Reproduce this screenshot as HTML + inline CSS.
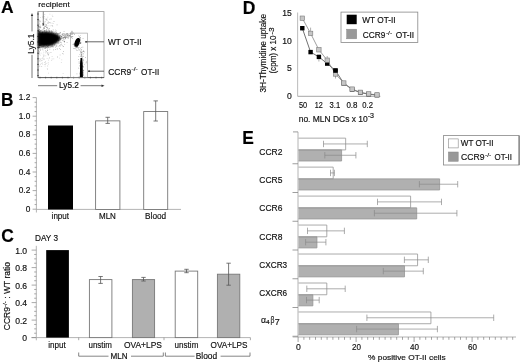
<!DOCTYPE html>
<html><head><meta charset="utf-8"><style>
html,body{margin:0;padding:0;background:#fff;width:520px;height:364px;overflow:hidden}
svg{display:block;filter:grayscale(100%)}
text{font-family:"Liberation Sans", sans-serif;stroke:#000;stroke-width:0.16px;paint-order:stroke}
</style></head><body>
<svg width="520" height="364" viewBox="0 0 520 364">
<defs><filter id="bl" x="-20%" y="-20%" width="140%" height="140%"><feGaussianBlur stdDeviation="0.7"/></filter><filter id="bl2" x="-20%" y="-20%" width="140%" height="140%"><feGaussianBlur stdDeviation="1.4"/></filter><filter id="bl4" x="-10%" y="-10%" width="120%" height="120%"><feGaussianBlur stdDeviation="0.85"/></filter><filter id="bl3" x="-5%" y="-5%" width="110%" height="110%"><feGaussianBlur stdDeviation="0.35"/></filter></defs>
<rect width="520" height="364" fill="#fff"/>
<text x="0.9" y="13.1" font-size="17" font-weight="bold" textLength="12.6" lengthAdjust="spacingAndGlyphs" fill="#000">A</text>
<text x="0.9" y="106" font-size="17.5" font-weight="bold" textLength="12.4" lengthAdjust="spacingAndGlyphs" fill="#000">B</text>
<text x="1.3" y="241.9" font-size="17.5" font-weight="bold" textLength="12.6" lengthAdjust="spacingAndGlyphs" fill="#000">C</text>
<text x="242.8" y="14.1" font-size="17.5" font-weight="bold" textLength="12.6" lengthAdjust="spacingAndGlyphs" fill="#000">D</text>
<text x="242.3" y="144.1" font-size="17.5" font-weight="bold" textLength="11.6" lengthAdjust="spacingAndGlyphs" fill="#000">E</text>
<rect x="38" y="11.6" width="66" height="66.0" fill="none" stroke="#999" stroke-width="0.8"/>
<line x1="38" y1="11.6" x2="38" y2="77.6" stroke="#666" stroke-width="0.8"/>
<line x1="38" y1="77.6" x2="104" y2="77.6" stroke="#555" stroke-width="0.9"/>
<line x1="37.2" y1="14.0" x2="38.8" y2="14.0" stroke="#333" stroke-width="0.8"/>
<line x1="37.2" y1="19.6" x2="38.8" y2="19.6" stroke="#333" stroke-width="0.8"/>
<line x1="37.2" y1="25.2" x2="38.8" y2="25.2" stroke="#333" stroke-width="0.8"/>
<line x1="37.2" y1="30.799999999999997" x2="38.8" y2="30.799999999999997" stroke="#333" stroke-width="0.8"/>
<line x1="37.2" y1="36.4" x2="38.8" y2="36.4" stroke="#333" stroke-width="0.8"/>
<line x1="37.2" y1="42.0" x2="38.8" y2="42.0" stroke="#333" stroke-width="0.8"/>
<line x1="37.2" y1="47.599999999999994" x2="38.8" y2="47.599999999999994" stroke="#333" stroke-width="0.8"/>
<line x1="37.2" y1="53.199999999999996" x2="38.8" y2="53.199999999999996" stroke="#333" stroke-width="0.8"/>
<line x1="37.2" y1="58.8" x2="38.8" y2="58.8" stroke="#333" stroke-width="0.8"/>
<line x1="37.2" y1="64.4" x2="38.8" y2="64.4" stroke="#333" stroke-width="0.8"/>
<line x1="37.2" y1="70.0" x2="38.8" y2="70.0" stroke="#333" stroke-width="0.8"/>
<line x1="37.2" y1="75.6" x2="38.8" y2="75.6" stroke="#333" stroke-width="0.8"/>
<line x1="40.0" y1="76.8" x2="40.0" y2="78.4" stroke="#444" stroke-width="0.7"/>
<line x1="45.6" y1="76.8" x2="45.6" y2="78.4" stroke="#444" stroke-width="0.7"/>
<line x1="51.2" y1="76.8" x2="51.2" y2="78.4" stroke="#444" stroke-width="0.7"/>
<line x1="56.8" y1="76.8" x2="56.8" y2="78.4" stroke="#444" stroke-width="0.7"/>
<line x1="62.4" y1="76.8" x2="62.4" y2="78.4" stroke="#444" stroke-width="0.7"/>
<line x1="68.0" y1="76.8" x2="68.0" y2="78.4" stroke="#444" stroke-width="0.7"/>
<line x1="73.6" y1="76.8" x2="73.6" y2="78.4" stroke="#444" stroke-width="0.7"/>
<line x1="79.19999999999999" y1="76.8" x2="79.19999999999999" y2="78.4" stroke="#444" stroke-width="0.7"/>
<line x1="84.8" y1="76.8" x2="84.8" y2="78.4" stroke="#444" stroke-width="0.7"/>
<line x1="90.4" y1="76.8" x2="90.4" y2="78.4" stroke="#444" stroke-width="0.7"/>
<line x1="96.0" y1="76.8" x2="96.0" y2="78.4" stroke="#444" stroke-width="0.7"/>
<line x1="101.6" y1="76.8" x2="101.6" y2="78.4" stroke="#444" stroke-width="0.7"/>
<g filter="url(#bl3)">
<path d="M42.3 37.4h.7v.7h-.7zM39.5 34.5h.7v.7h-.7zM48.3 33.6h.7v.7h-.7zM47.8 34.8h.7v.7h-.7zM49.0 42.9h.7v.7h-.7zM38.5 40.4h.7v.7h-.7zM38.6 37.5h.7v.7h-.7zM38.9 24.6h.7v.7h-.7zM38.8 42.3h.7v.7h-.7zM46.6 43.3h.7v.7h-.7zM45.0 36.6h.7v.7h-.7zM39.0 38.4h.7v.7h-.7zM46.5 41.5h.7v.7h-.7zM47.3 36.8h.7v.7h-.7zM47.2 39.3h.7v.7h-.7zM39.9 32.0h.7v.7h-.7zM44.9 39.9h.7v.7h-.7zM46.2 37.3h.7v.7h-.7zM40.5 45.2h.7v.7h-.7zM38.4 47.9h.7v.7h-.7zM39.0 43.2h.7v.7h-.7zM53.1 33.2h.7v.7h-.7zM44.1 40.7h.7v.7h-.7zM39.0 37.7h.7v.7h-.7zM38.9 32.3h.7v.7h-.7zM38.6 34.2h.7v.7h-.7zM40.1 50.3h.7v.7h-.7zM40.4 34.0h.7v.7h-.7zM59.9 32.1h.7v.7h-.7zM53.3 40.6h.7v.7h-.7zM47.1 43.0h.7v.7h-.7zM43.6 37.6h.7v.7h-.7zM38.4 34.9h.7v.7h-.7zM48.8 28.6h.7v.7h-.7zM53.2 36.3h.7v.7h-.7zM39.1 39.1h.7v.7h-.7zM38.5 32.8h.7v.7h-.7zM38.8 41.4h.7v.7h-.7zM46.9 32.7h.7v.7h-.7zM48.4 38.8h.7v.7h-.7zM45.3 40.5h.7v.7h-.7zM43.7 35.1h.7v.7h-.7zM38.5 29.2h.7v.7h-.7zM49.0 37.1h.7v.7h-.7zM38.5 35.2h.7v.7h-.7zM42.1 32.0h.7v.7h-.7zM38.6 38.5h.7v.7h-.7zM44.5 34.6h.7v.7h-.7zM53.2 38.8h.7v.7h-.7zM38.5 46.4h.7v.7h-.7zM46.6 26.9h.7v.7h-.7zM46.0 30.4h.7v.7h-.7zM44.9 43.1h.7v.7h-.7zM48.7 44.0h.7v.7h-.7zM56.4 37.6h.7v.7h-.7zM38.9 38.3h.7v.7h-.7zM43.6 39.4h.7v.7h-.7zM38.8 42.5h.7v.7h-.7zM41.8 37.6h.7v.7h-.7zM43.3 42.5h.7v.7h-.7zM46.9 40.1h.7v.7h-.7zM40.2 42.5h.7v.7h-.7zM38.5 40.5h.7v.7h-.7zM50.9 38.5h.7v.7h-.7zM48.8 36.0h.7v.7h-.7zM45.1 39.0h.7v.7h-.7zM46.3 41.8h.7v.7h-.7zM45.0 43.8h.7v.7h-.7zM39.1 37.2h.7v.7h-.7zM43.4 46.6h.7v.7h-.7zM52.0 31.6h.7v.7h-.7zM38.8 34.0h.7v.7h-.7zM39.6 33.6h.7v.7h-.7zM38.5 37.6h.7v.7h-.7zM38.5 41.8h.7v.7h-.7zM43.3 39.8h.7v.7h-.7zM44.9 43.8h.7v.7h-.7zM39.0 36.8h.7v.7h-.7zM38.7 43.7h.7v.7h-.7zM38.5 36.5h.7v.7h-.7zM43.1 45.8h.7v.7h-.7zM52.8 37.0h.7v.7h-.7zM47.3 49.8h.7v.7h-.7zM49.6 34.2h.7v.7h-.7zM53.0 41.6h.7v.7h-.7zM43.6 42.6h.7v.7h-.7zM38.7 39.9h.7v.7h-.7zM40.2 39.0h.7v.7h-.7zM38.6 40.1h.7v.7h-.7zM57.6 33.7h.7v.7h-.7zM46.8 41.2h.7v.7h-.7zM43.9 43.7h.7v.7h-.7zM45.0 35.7h.7v.7h-.7zM41.9 35.5h.7v.7h-.7zM38.6 33.7h.7v.7h-.7zM45.3 40.7h.7v.7h-.7zM44.2 42.1h.7v.7h-.7zM41.2 30.5h.7v.7h-.7zM38.8 40.1h.7v.7h-.7zM55.3 36.7h.7v.7h-.7zM38.4 40.4h.7v.7h-.7zM41.7 39.7h.7v.7h-.7zM38.7 39.3h.7v.7h-.7zM47.2 39.1h.7v.7h-.7zM50.1 38.4h.7v.7h-.7zM38.4 36.2h.7v.7h-.7zM43.0 43.6h.7v.7h-.7zM60.4 35.1h.7v.7h-.7zM39.0 38.1h.7v.7h-.7zM46.2 32.4h.7v.7h-.7zM39.0 35.9h.7v.7h-.7zM43.2 38.6h.7v.7h-.7zM38.6 40.6h.7v.7h-.7zM51.2 39.6h.7v.7h-.7zM46.9 40.8h.7v.7h-.7zM62.3 40.1h.7v.7h-.7zM38.4 34.7h.7v.7h-.7zM47.8 31.9h.7v.7h-.7zM53.5 36.6h.7v.7h-.7zM38.7 37.0h.7v.7h-.7zM50.4 33.3h.7v.7h-.7zM38.7 33.6h.7v.7h-.7zM38.9 42.4h.7v.7h-.7zM52.1 43.9h.7v.7h-.7zM51.9 34.0h.7v.7h-.7zM38.5 37.7h.7v.7h-.7zM44.5 34.5h.7v.7h-.7zM43.5 40.8h.7v.7h-.7zM46.0 44.7h.7v.7h-.7zM54.1 39.9h.7v.7h-.7zM47.1 46.1h.7v.7h-.7zM38.7 40.7h.7v.7h-.7zM51.5 36.1h.7v.7h-.7zM39.1 38.4h.7v.7h-.7zM44.9 41.8h.7v.7h-.7zM38.5 38.7h.7v.7h-.7zM50.6 52.1h.7v.7h-.7zM40.2 36.8h.7v.7h-.7zM53.3 36.5h.7v.7h-.7zM47.1 42.3h.7v.7h-.7zM38.5 39.9h.7v.7h-.7zM38.6 43.2h.7v.7h-.7zM38.5 29.4h.7v.7h-.7zM52.8 36.9h.7v.7h-.7zM38.7 37.7h.7v.7h-.7zM46.9 38.6h.7v.7h-.7zM38.7 39.6h.7v.7h-.7zM39.5 34.0h.7v.7h-.7zM45.4 33.4h.7v.7h-.7zM42.9 37.6h.7v.7h-.7zM38.8 41.0h.7v.7h-.7zM55.7 39.5h.7v.7h-.7zM42.5 38.2h.7v.7h-.7zM44.7 34.4h.7v.7h-.7zM38.8 42.8h.7v.7h-.7zM43.3 37.1h.7v.7h-.7zM55.9 33.2h.7v.7h-.7zM52.3 40.0h.7v.7h-.7zM46.5 29.4h.7v.7h-.7zM38.8 41.1h.7v.7h-.7zM41.8 32.7h.7v.7h-.7zM44.6 37.9h.7v.7h-.7zM38.4 37.8h.7v.7h-.7zM52.3 43.5h.7v.7h-.7zM50.7 40.4h.7v.7h-.7zM38.5 44.7h.7v.7h-.7zM38.9 35.2h.7v.7h-.7zM38.8 47.6h.7v.7h-.7zM38.5 48.3h.7v.7h-.7zM38.6 31.8h.7v.7h-.7zM39.4 35.9h.7v.7h-.7zM40.4 39.3h.7v.7h-.7zM39.3 43.7h.7v.7h-.7zM44.9 46.2h.7v.7h-.7zM38.9 39.2h.7v.7h-.7zM40.4 41.3h.7v.7h-.7zM47.7 38.6h.7v.7h-.7zM40.9 39.3h.7v.7h-.7zM51.9 31.8h.7v.7h-.7zM38.8 38.6h.7v.7h-.7zM38.4 37.4h.7v.7h-.7zM42.6 40.4h.7v.7h-.7zM54.2 44.5h.7v.7h-.7zM58.0 33.0h.7v.7h-.7zM40.8 38.6h.7v.7h-.7zM49.3 30.3h.7v.7h-.7zM38.5 36.2h.7v.7h-.7zM38.5 40.6h.7v.7h-.7zM44.0 38.0h.7v.7h-.7zM38.5 43.3h.7v.7h-.7zM53.4 42.8h.7v.7h-.7zM39.0 45.1h.7v.7h-.7zM53.6 38.7h.7v.7h-.7zM42.0 38.4h.7v.7h-.7zM38.5 40.6h.7v.7h-.7zM44.6 40.5h.7v.7h-.7zM38.7 44.1h.7v.7h-.7zM38.9 40.6h.7v.7h-.7zM39.4 48.8h.7v.7h-.7zM39.2 43.3h.7v.7h-.7zM57.5 39.4h.7v.7h-.7zM38.9 38.0h.7v.7h-.7zM38.5 33.7h.7v.7h-.7zM44.2 43.9h.7v.7h-.7zM52.0 39.6h.7v.7h-.7zM60.3 31.9h.7v.7h-.7zM46.3 44.5h.7v.7h-.7zM43.7 28.5h.7v.7h-.7zM50.2 36.8h.7v.7h-.7zM64.0 41.6h.7v.7h-.7zM42.5 48.4h.7v.7h-.7zM44.7 47.8h.7v.7h-.7zM51.5 43.5h.7v.7h-.7zM38.5 41.2h.7v.7h-.7zM51.1 43.5h.7v.7h-.7zM54.5 41.9h.7v.7h-.7zM41.6 37.4h.7v.7h-.7zM41.3 40.1h.7v.7h-.7zM39.0 40.2h.7v.7h-.7zM45.9 40.5h.7v.7h-.7zM42.2 39.1h.7v.7h-.7zM38.4 38.3h.7v.7h-.7zM44.6 40.7h.7v.7h-.7zM38.5 39.7h.7v.7h-.7zM38.7 44.2h.7v.7h-.7zM45.2 43.5h.7v.7h-.7zM43.3 42.1h.7v.7h-.7zM44.9 37.2h.7v.7h-.7zM38.7 44.9h.7v.7h-.7zM38.8 41.6h.7v.7h-.7zM39.2 37.6h.7v.7h-.7zM38.8 39.8h.7v.7h-.7zM38.9 44.4h.7v.7h-.7zM38.5 26.0h.7v.7h-.7zM49.6 41.3h.7v.7h-.7zM48.6 47.3h.7v.7h-.7zM38.5 41.1h.7v.7h-.7zM42.4 40.2h.7v.7h-.7zM49.8 34.0h.7v.7h-.7zM40.7 37.2h.7v.7h-.7zM52.9 42.5h.7v.7h-.7zM41.9 39.2h.7v.7h-.7zM60.3 39.5h.7v.7h-.7zM41.1 44.3h.7v.7h-.7zM38.6 36.0h.7v.7h-.7zM38.7 40.4h.7v.7h-.7zM45.5 31.9h.7v.7h-.7zM39.2 34.6h.7v.7h-.7zM39.3 41.5h.7v.7h-.7zM41.4 43.6h.7v.7h-.7zM38.6 36.5h.7v.7h-.7zM40.7 39.7h.7v.7h-.7zM38.5 40.0h.7v.7h-.7zM38.6 41.4h.7v.7h-.7zM39.2 44.1h.7v.7h-.7zM40.9 42.6h.7v.7h-.7zM44.3 41.4h.7v.7h-.7zM38.6 39.8h.7v.7h-.7zM55.0 37.0h.7v.7h-.7zM40.1 39.8h.7v.7h-.7zM43.7 40.8h.7v.7h-.7zM40.3 30.6h.7v.7h-.7zM38.7 31.1h.7v.7h-.7zM46.1 40.6h.7v.7h-.7zM41.2 45.7h.7v.7h-.7zM38.8 40.4h.7v.7h-.7zM47.6 40.7h.7v.7h-.7zM52.7 41.1h.7v.7h-.7zM43.9 40.8h.7v.7h-.7zM54.4 44.4h.7v.7h-.7zM46.6 31.0h.7v.7h-.7zM39.2 46.9h.7v.7h-.7zM42.1 32.7h.7v.7h-.7zM56.4 40.5h.7v.7h-.7zM38.7 31.9h.7v.7h-.7zM65.9 33.8h.7v.7h-.7zM71.5 33.5h.7v.7h-.7zM57.0 33.6h.7v.7h-.7zM65.5 33.8h.7v.7h-.7zM64.0 40.8h.7v.7h-.7zM61.7 35.8h.7v.7h-.7zM66.7 34.9h.7v.7h-.7zM64.0 36.8h.7v.7h-.7zM58.6 34.6h.7v.7h-.7zM62.0 33.5h.7v.7h-.7zM71.8 36.5h.7v.7h-.7zM69.7 33.1h.7v.7h-.7zM60.0 34.9h.7v.7h-.7zM57.7 39.7h.7v.7h-.7zM65.7 34.1h.7v.7h-.7zM59.2 36.7h.7v.7h-.7zM56.9 34.6h.7v.7h-.7zM59.1 37.6h.7v.7h-.7zM58.2 40.4h.7v.7h-.7zM65.2 33.7h.7v.7h-.7zM72.1 31.6h.7v.7h-.7zM71.6 32.2h.7v.7h-.7zM57.7 37.8h.7v.7h-.7zM56.2 39.8h.7v.7h-.7zM60.4 33.4h.7v.7h-.7zM70.2 34.3h.7v.7h-.7zM57.1 38.0h.7v.7h-.7zM65.1 35.8h.7v.7h-.7zM57.6 37.5h.7v.7h-.7zM58.9 38.2h.7v.7h-.7zM57.8 39.2h.7v.7h-.7zM59.6 32.4h.7v.7h-.7zM64.0 35.0h.7v.7h-.7zM68.5 34.2h.7v.7h-.7zM73.7 33.5h.7v.7h-.7zM64.4 33.8h.7v.7h-.7zM71.0 36.1h.7v.7h-.7zM59.7 37.7h.7v.7h-.7zM58.2 38.6h.7v.7h-.7zM57.0 38.8h.7v.7h-.7zM57.0 37.3h.7v.7h-.7zM71.9 38.0h.7v.7h-.7zM67.5 33.9h.7v.7h-.7zM38.7 26.7h.7v.7h-.7zM45.6 26.0h.7v.7h-.7zM39.3 28.9h.7v.7h-.7zM45.8 18.7h.7v.7h-.7zM44.7 26.0h.7v.7h-.7zM42.2 23.5h.7v.7h-.7zM52.4 25.8h.7v.7h-.7zM42.8 28.9h.7v.7h-.7zM80.6 42.8h.7v.7h-.7zM78.3 39.6h.7v.7h-.7zM79.6 39.1h.7v.7h-.7zM76.4 44.4h.7v.7h-.7zM75.2 42.8h.7v.7h-.7zM77.2 45.3h.7v.7h-.7zM77.3 40.8h.7v.7h-.7zM76.1 39.7h.7v.7h-.7zM79.6 39.1h.7v.7h-.7zM76.7 43.2h.7v.7h-.7zM79.3 39.9h.7v.7h-.7zM77.3 41.5h.7v.7h-.7zM76.8 41.0h.7v.7h-.7zM77.9 44.2h.7v.7h-.7zM76.1 44.2h.7v.7h-.7zM78.7 43.0h.7v.7h-.7zM78.5 45.4h.7v.7h-.7zM76.5 39.0h.7v.7h-.7zM75.8 46.2h.7v.7h-.7zM77.9 41.6h.7v.7h-.7zM75.3 41.5h.7v.7h-.7zM80.3 37.6h.7v.7h-.7zM78.7 41.0h.7v.7h-.7zM78.4 42.2h.7v.7h-.7zM80.0 39.4h.7v.7h-.7zM76.6 43.8h.7v.7h-.7zM77.4 46.3h.7v.7h-.7zM77.8 43.5h.7v.7h-.7zM76.5 44.0h.7v.7h-.7zM76.2 40.7h.7v.7h-.7zM77.2 45.5h.7v.7h-.7zM79.2 39.7h.7v.7h-.7zM77.5 42.0h.7v.7h-.7zM75.2 44.3h.7v.7h-.7zM78.2 41.2h.7v.7h-.7zM78.0 38.0h.7v.7h-.7zM77.0 44.3h.7v.7h-.7zM78.5 41.0h.7v.7h-.7zM78.4 49.4h.7v.7h-.7zM77.0 42.1h.7v.7h-.7zM80.1 43.0h.7v.7h-.7zM80.1 51.7h.7v.7h-.7zM77.5 50.0h.7v.7h-.7zM80.8 65.3h.7v.7h-.7zM80.8 75.9h.7v.7h-.7zM81.3 73.8h.7v.7h-.7zM81.4 72.2h.7v.7h-.7zM80.8 77.0h.7v.7h-.7zM81.3 76.5h.7v.7h-.7zM80.7 76.8h.7v.7h-.7zM81.2 75.7h.7v.7h-.7zM80.5 52.8h.7v.7h-.7zM81.3 63.8h.7v.7h-.7zM81.1 69.5h.7v.7h-.7zM81.6 65.9h.7v.7h-.7zM81.4 68.2h.7v.7h-.7zM81.9 63.4h.7v.7h-.7zM81.5 71.4h.7v.7h-.7zM82.0 71.4h.7v.7h-.7zM81.0 61.9h.7v.7h-.7zM81.3 74.9h.7v.7h-.7zM82.0 65.4h.7v.7h-.7zM82.3 65.8h.7v.7h-.7zM80.9 69.3h.7v.7h-.7zM80.8 74.3h.7v.7h-.7zM81.3 73.3h.7v.7h-.7zM80.5 71.6h.7v.7h-.7zM80.8 73.7h.7v.7h-.7zM81.4 77.0h.7v.7h-.7zM81.1 75.4h.7v.7h-.7zM81.6 73.8h.7v.7h-.7zM81.2 74.5h.7v.7h-.7zM81.0 64.8h.7v.7h-.7zM81.3 68.7h.7v.7h-.7zM80.8 69.8h.7v.7h-.7zM81.9 74.3h.7v.7h-.7zM81.1 75.3h.7v.7h-.7zM80.7 68.5h.7v.7h-.7zM81.4 64.8h.7v.7h-.7zM81.4 77.0h.7v.7h-.7zM81.1 76.4h.7v.7h-.7zM80.6 73.6h.7v.7h-.7zM81.9 67.7h.7v.7h-.7zM81.3 76.4h.7v.7h-.7zM81.9 76.0h.7v.7h-.7zM80.3 68.9h.7v.7h-.7zM81.2 75.7h.7v.7h-.7zM82.0 64.6h.7v.7h-.7zM80.7 70.4h.7v.7h-.7zM82.2 75.1h.7v.7h-.7zM82.0 74.2h.7v.7h-.7zM81.1 72.9h.7v.7h-.7zM81.9 76.3h.7v.7h-.7zM82.0 77.3h.7v.7h-.7zM80.7 67.6h.7v.7h-.7zM80.7 54.1h.7v.7h-.7zM81.3 69.9h.7v.7h-.7zM81.5 71.1h.7v.7h-.7zM80.2 72.6h.7v.7h-.7zM82.3 69.6h.7v.7h-.7zM81.6 69.3h.7v.7h-.7zM81.8 75.4h.7v.7h-.7zM81.8 58.9h.7v.7h-.7zM81.2 69.5h.7v.7h-.7zM81.7 75.6h.7v.7h-.7zM81.3 74.2h.7v.7h-.7zM80.7 70.9h.7v.7h-.7zM80.6 64.6h.7v.7h-.7zM81.2 68.3h.7v.7h-.7zM80.5 75.0h.7v.7h-.7zM81.0 72.8h.7v.7h-.7zM82.6 59.6h.7v.7h-.7zM81.6 76.0h.7v.7h-.7zM80.1 71.8h.7v.7h-.7zM80.4 67.5h.7v.7h-.7zM80.7 72.1h.7v.7h-.7zM82.7 66.6h.7v.7h-.7zM82.0 71.2h.7v.7h-.7zM82.2 56.5h.7v.7h-.7zM80.4 76.9h.7v.7h-.7zM81.7 73.7h.7v.7h-.7zM81.7 57.8h.7v.7h-.7zM80.5 75.1h.7v.7h-.7zM80.2 72.5h.7v.7h-.7zM81.6 64.6h.7v.7h-.7zM80.3 71.2h.7v.7h-.7zM80.8 73.8h.7v.7h-.7zM81.9 59.9h.7v.7h-.7zM80.9 71.8h.7v.7h-.7zM81.4 68.5h.7v.7h-.7zM82.2 74.3h.7v.7h-.7zM81.6 63.6h.7v.7h-.7zM81.6 64.6h.7v.7h-.7zM80.7 73.0h.7v.7h-.7zM81.8 73.9h.7v.7h-.7zM81.9 71.2h.7v.7h-.7zM79.7 73.0h.7v.7h-.7zM81.7 75.2h.7v.7h-.7zM81.7 73.0h.7v.7h-.7zM81.9 72.0h.7v.7h-.7zM80.7 76.0h.7v.7h-.7zM82.8 71.1h.7v.7h-.7zM81.7 58.2h.7v.7h-.7zM78.7 61.5h.7v.7h-.7zM81.4 51.6h.7v.7h-.7zM80.7 55.2h.7v.7h-.7zM80.1 63.6h.7v.7h-.7zM81.6 51.9h.7v.7h-.7zM73.5 43.6h.7v.7h-.7zM78.4 35.6h.7v.7h-.7zM78.0 67.7h.7v.7h-.7zM76.6 73.6h.7v.7h-.7z" fill="#000" fill-opacity="0.38"/>
<path d="M53.6 38.1h.7v.7h-.7zM38.4 37.0h.7v.7h-.7zM38.6 38.2h.7v.7h-.7zM40.8 36.2h.7v.7h-.7zM40.3 38.3h.7v.7h-.7zM38.9 40.9h.7v.7h-.7zM38.7 40.2h.7v.7h-.7zM42.3 37.9h.7v.7h-.7zM45.3 50.5h.7v.7h-.7zM50.9 32.6h.7v.7h-.7zM44.1 41.7h.7v.7h-.7zM38.5 37.8h.7v.7h-.7zM38.5 30.2h.7v.7h-.7zM45.4 41.4h.7v.7h-.7zM47.1 46.2h.7v.7h-.7zM48.6 36.8h.7v.7h-.7zM38.9 42.4h.7v.7h-.7zM38.5 30.1h.7v.7h-.7zM47.4 35.0h.7v.7h-.7zM49.5 41.5h.7v.7h-.7zM52.7 45.5h.7v.7h-.7zM38.8 26.7h.7v.7h-.7zM54.9 39.5h.7v.7h-.7zM48.0 40.8h.7v.7h-.7zM44.5 38.3h.7v.7h-.7zM45.3 33.7h.7v.7h-.7zM38.9 37.1h.7v.7h-.7zM38.7 27.7h.7v.7h-.7zM42.5 39.0h.7v.7h-.7zM63.8 41.2h.7v.7h-.7zM38.6 36.9h.7v.7h-.7zM51.3 33.1h.7v.7h-.7zM44.8 33.9h.7v.7h-.7zM38.6 42.3h.7v.7h-.7zM48.9 39.3h.7v.7h-.7zM38.5 33.9h.7v.7h-.7zM41.2 37.3h.7v.7h-.7zM41.4 42.6h.7v.7h-.7zM38.6 41.8h.7v.7h-.7zM57.6 38.8h.7v.7h-.7zM45.9 42.2h.7v.7h-.7zM43.5 38.3h.7v.7h-.7zM43.1 35.1h.7v.7h-.7zM44.6 40.9h.7v.7h-.7zM40.6 39.0h.7v.7h-.7zM46.9 38.5h.7v.7h-.7zM38.9 37.9h.7v.7h-.7zM39.0 38.2h.7v.7h-.7zM42.4 44.0h.7v.7h-.7zM57.2 36.6h.7v.7h-.7zM38.5 38.4h.7v.7h-.7zM44.2 40.1h.7v.7h-.7zM40.9 37.7h.7v.7h-.7zM38.4 39.8h.7v.7h-.7zM50.2 38.2h.7v.7h-.7zM40.9 39.6h.7v.7h-.7zM39.4 41.0h.7v.7h-.7zM38.8 41.7h.7v.7h-.7zM51.3 38.3h.7v.7h-.7zM45.8 32.0h.7v.7h-.7zM39.1 31.5h.7v.7h-.7zM39.0 44.8h.7v.7h-.7zM47.9 45.0h.7v.7h-.7zM38.7 40.3h.7v.7h-.7zM38.6 46.3h.7v.7h-.7zM38.9 31.3h.7v.7h-.7zM41.9 46.8h.7v.7h-.7zM38.5 39.3h.7v.7h-.7zM38.7 43.4h.7v.7h-.7zM42.4 44.8h.7v.7h-.7zM43.3 44.6h.7v.7h-.7zM39.0 31.7h.7v.7h-.7zM44.9 35.2h.7v.7h-.7zM44.3 38.3h.7v.7h-.7zM38.5 34.1h.7v.7h-.7zM38.5 36.9h.7v.7h-.7zM39.4 43.2h.7v.7h-.7zM45.9 41.1h.7v.7h-.7zM43.5 41.1h.7v.7h-.7zM41.7 33.6h.7v.7h-.7zM39.1 37.4h.7v.7h-.7zM38.6 31.3h.7v.7h-.7zM40.5 45.6h.7v.7h-.7zM43.6 39.9h.7v.7h-.7zM46.5 24.9h.7v.7h-.7zM41.3 36.8h.7v.7h-.7zM38.4 34.7h.7v.7h-.7zM50.9 42.3h.7v.7h-.7zM40.0 40.8h.7v.7h-.7zM54.1 40.1h.7v.7h-.7zM42.2 34.1h.7v.7h-.7zM38.4 40.6h.7v.7h-.7zM45.9 41.7h.7v.7h-.7zM48.5 44.1h.7v.7h-.7zM56.8 34.7h.7v.7h-.7zM39.2 39.8h.7v.7h-.7zM47.2 46.8h.7v.7h-.7zM55.6 33.0h.7v.7h-.7zM45.7 43.8h.7v.7h-.7zM45.0 39.6h.7v.7h-.7zM46.6 40.6h.7v.7h-.7zM40.1 47.1h.7v.7h-.7zM54.4 36.9h.7v.7h-.7zM41.1 36.2h.7v.7h-.7zM43.0 44.2h.7v.7h-.7zM43.4 39.7h.7v.7h-.7zM41.3 40.1h.7v.7h-.7zM38.6 41.0h.7v.7h-.7zM40.5 37.3h.7v.7h-.7zM39.0 38.6h.7v.7h-.7zM50.0 34.1h.7v.7h-.7zM50.9 34.3h.7v.7h-.7zM45.8 36.8h.7v.7h-.7zM56.4 46.2h.7v.7h-.7zM38.7 37.8h.7v.7h-.7zM48.1 39.1h.7v.7h-.7zM48.1 40.2h.7v.7h-.7zM48.1 37.2h.7v.7h-.7zM43.9 41.1h.7v.7h-.7zM42.8 45.7h.7v.7h-.7zM38.4 41.6h.7v.7h-.7zM44.7 47.7h.7v.7h-.7zM45.0 30.6h.7v.7h-.7zM43.8 31.1h.7v.7h-.7zM48.2 35.8h.7v.7h-.7zM38.7 37.2h.7v.7h-.7zM38.7 45.5h.7v.7h-.7zM50.8 46.6h.7v.7h-.7zM41.7 41.6h.7v.7h-.7zM38.8 41.6h.7v.7h-.7zM52.8 29.6h.7v.7h-.7zM38.6 35.7h.7v.7h-.7zM43.6 42.2h.7v.7h-.7zM38.5 43.8h.7v.7h-.7zM46.9 33.1h.7v.7h-.7zM43.3 38.0h.7v.7h-.7zM51.4 34.2h.7v.7h-.7zM51.2 45.7h.7v.7h-.7zM38.9 47.0h.7v.7h-.7zM46.1 37.0h.7v.7h-.7zM38.6 39.3h.7v.7h-.7zM38.4 38.1h.7v.7h-.7zM44.0 32.8h.7v.7h-.7zM44.5 32.0h.7v.7h-.7zM48.5 38.4h.7v.7h-.7zM38.7 40.2h.7v.7h-.7zM50.4 39.4h.7v.7h-.7zM46.1 31.2h.7v.7h-.7zM61.4 44.6h.7v.7h-.7zM39.3 46.9h.7v.7h-.7zM46.8 44.7h.7v.7h-.7zM58.6 40.2h.7v.7h-.7zM40.6 44.6h.7v.7h-.7zM54.9 35.2h.7v.7h-.7zM38.4 36.1h.7v.7h-.7zM38.5 39.3h.7v.7h-.7zM38.8 40.1h.7v.7h-.7zM38.7 34.6h.7v.7h-.7zM46.0 39.8h.7v.7h-.7zM46.0 40.3h.7v.7h-.7zM45.1 41.6h.7v.7h-.7zM54.4 37.1h.7v.7h-.7zM41.0 36.6h.7v.7h-.7zM40.1 30.6h.7v.7h-.7zM43.6 35.4h.7v.7h-.7zM51.6 39.6h.7v.7h-.7zM49.2 35.2h.7v.7h-.7zM48.9 34.2h.7v.7h-.7zM44.0 27.6h.7v.7h-.7zM47.8 40.5h.7v.7h-.7zM38.5 40.5h.7v.7h-.7zM38.7 36.8h.7v.7h-.7zM55.2 42.6h.7v.7h-.7zM41.5 42.0h.7v.7h-.7zM42.9 37.6h.7v.7h-.7zM59.4 37.7h.7v.7h-.7zM39.1 42.6h.7v.7h-.7zM38.5 35.2h.7v.7h-.7zM38.6 37.9h.7v.7h-.7zM54.7 33.3h.7v.7h-.7zM45.9 37.4h.7v.7h-.7zM52.2 46.0h.7v.7h-.7zM43.5 37.4h.7v.7h-.7zM50.4 38.0h.7v.7h-.7zM40.5 29.9h.7v.7h-.7zM38.4 35.2h.7v.7h-.7zM48.3 39.0h.7v.7h-.7zM38.7 32.9h.7v.7h-.7zM39.2 40.8h.7v.7h-.7zM55.7 40.6h.7v.7h-.7zM43.9 42.5h.7v.7h-.7zM43.6 39.9h.7v.7h-.7zM38.4 41.9h.7v.7h-.7zM47.9 36.3h.7v.7h-.7zM38.7 41.0h.7v.7h-.7zM38.5 41.1h.7v.7h-.7zM38.5 38.6h.7v.7h-.7zM38.7 30.9h.7v.7h-.7zM38.9 30.5h.7v.7h-.7zM38.7 37.7h.7v.7h-.7zM50.1 43.9h.7v.7h-.7zM44.3 36.7h.7v.7h-.7zM39.0 31.4h.7v.7h-.7zM39.4 45.1h.7v.7h-.7zM38.9 26.8h.7v.7h-.7zM46.0 29.6h.7v.7h-.7zM45.9 51.0h.7v.7h-.7zM39.1 39.8h.7v.7h-.7zM47.5 37.1h.7v.7h-.7zM44.2 44.1h.7v.7h-.7zM44.2 34.6h.7v.7h-.7zM45.1 40.1h.7v.7h-.7zM39.9 36.4h.7v.7h-.7zM38.7 45.7h.7v.7h-.7zM38.5 31.6h.7v.7h-.7zM49.9 41.8h.7v.7h-.7zM51.8 42.6h.7v.7h-.7zM44.1 39.3h.7v.7h-.7zM44.2 31.8h.7v.7h-.7zM45.7 42.8h.7v.7h-.7zM38.6 40.7h.7v.7h-.7zM41.6 41.4h.7v.7h-.7zM54.0 35.0h.7v.7h-.7zM39.7 38.1h.7v.7h-.7zM63.2 46.3h.7v.7h-.7zM62.7 32.9h.7v.7h-.7zM38.4 34.2h.7v.7h-.7zM45.2 31.9h.7v.7h-.7zM49.7 39.5h.7v.7h-.7zM42.5 44.0h.7v.7h-.7zM42.7 36.5h.7v.7h-.7zM39.0 35.8h.7v.7h-.7zM49.4 39.7h.7v.7h-.7zM42.8 34.2h.7v.7h-.7zM42.9 42.2h.7v.7h-.7zM49.4 40.6h.7v.7h-.7zM38.8 36.9h.7v.7h-.7zM45.5 35.4h.7v.7h-.7zM40.5 40.6h.7v.7h-.7zM53.7 39.3h.7v.7h-.7zM39.9 34.4h.7v.7h-.7zM39.3 51.7h.7v.7h-.7zM40.8 45.3h.7v.7h-.7zM46.5 34.8h.7v.7h-.7zM46.3 37.0h.7v.7h-.7zM38.5 34.7h.7v.7h-.7zM38.4 47.1h.7v.7h-.7zM38.4 38.9h.7v.7h-.7zM39.3 35.7h.7v.7h-.7zM61.3 42.5h.7v.7h-.7zM39.0 44.6h.7v.7h-.7zM45.4 33.9h.7v.7h-.7zM61.6 38.6h.7v.7h-.7zM38.8 39.3h.7v.7h-.7zM49.4 40.0h.7v.7h-.7zM62.3 45.4h.7v.7h-.7zM54.2 41.4h.7v.7h-.7zM38.5 40.0h.7v.7h-.7zM38.5 43.2h.7v.7h-.7zM47.0 36.7h.7v.7h-.7zM42.2 37.7h.7v.7h-.7zM47.0 50.2h.7v.7h-.7zM45.4 42.2h.7v.7h-.7zM39.8 45.4h.7v.7h-.7zM43.8 40.8h.7v.7h-.7zM57.7 38.9h.7v.7h-.7zM45.2 40.4h.7v.7h-.7zM44.5 41.4h.7v.7h-.7zM38.9 42.0h.7v.7h-.7zM39.1 30.5h.7v.7h-.7zM58.6 46.4h.7v.7h-.7zM43.8 46.3h.7v.7h-.7zM40.5 42.6h.7v.7h-.7zM47.9 41.2h.7v.7h-.7zM39.6 45.9h.7v.7h-.7zM58.8 32.9h.7v.7h-.7zM68.4 35.1h.7v.7h-.7zM63.4 35.5h.7v.7h-.7zM57.0 33.0h.7v.7h-.7zM59.7 38.2h.7v.7h-.7zM66.8 36.4h.7v.7h-.7zM66.6 32.9h.7v.7h-.7zM60.3 38.2h.7v.7h-.7zM67.4 33.6h.7v.7h-.7zM65.4 38.6h.7v.7h-.7zM57.2 36.5h.7v.7h-.7zM71.8 33.7h.7v.7h-.7zM64.2 36.9h.7v.7h-.7zM72.4 33.5h.7v.7h-.7zM60.6 38.1h.7v.7h-.7zM69.0 34.9h.7v.7h-.7zM62.3 37.5h.7v.7h-.7zM57.4 38.0h.7v.7h-.7zM65.5 35.2h.7v.7h-.7zM60.4 36.4h.7v.7h-.7zM72.2 33.3h.7v.7h-.7zM59.3 35.4h.7v.7h-.7zM72.5 36.0h.7v.7h-.7zM60.2 39.3h.7v.7h-.7zM65.4 38.5h.7v.7h-.7zM56.7 37.1h.7v.7h-.7zM71.6 34.1h.7v.7h-.7zM65.4 35.9h.7v.7h-.7zM57.1 37.7h.7v.7h-.7zM60.0 36.9h.7v.7h-.7zM64.3 33.8h.7v.7h-.7zM69.6 35.0h.7v.7h-.7zM57.0 39.6h.7v.7h-.7zM63.0 37.7h.7v.7h-.7zM64.4 36.4h.7v.7h-.7zM65.8 37.1h.7v.7h-.7zM63.1 34.8h.7v.7h-.7zM59.6 37.8h.7v.7h-.7zM62.9 40.5h.7v.7h-.7zM56.6 40.0h.7v.7h-.7zM60.8 36.4h.7v.7h-.7zM63.4 38.7h.7v.7h-.7zM47.1 28.1h.7v.7h-.7zM40.0 27.0h.7v.7h-.7zM44.3 30.1h.7v.7h-.7zM39.9 26.4h.7v.7h-.7zM42.5 25.2h.7v.7h-.7zM43.4 24.7h.7v.7h-.7zM46.2 27.0h.7v.7h-.7zM48.4 22.9h.7v.7h-.7zM44.7 31.0h.7v.7h-.7zM76.1 42.4h.7v.7h-.7zM77.6 42.9h.7v.7h-.7zM78.7 41.3h.7v.7h-.7zM79.2 40.2h.7v.7h-.7zM76.2 43.8h.7v.7h-.7zM76.5 43.3h.7v.7h-.7zM75.9 42.4h.7v.7h-.7zM75.8 42.7h.7v.7h-.7zM75.5 42.4h.7v.7h-.7zM75.8 44.2h.7v.7h-.7zM79.6 40.5h.7v.7h-.7zM77.7 41.0h.7v.7h-.7zM79.8 43.1h.7v.7h-.7zM77.2 43.4h.7v.7h-.7zM77.1 43.2h.7v.7h-.7zM80.0 40.6h.7v.7h-.7zM77.0 44.1h.7v.7h-.7zM73.4 44.2h.7v.7h-.7zM77.9 43.9h.7v.7h-.7zM78.3 40.8h.7v.7h-.7zM77.2 42.1h.7v.7h-.7zM75.9 43.9h.7v.7h-.7zM78.7 44.0h.7v.7h-.7zM76.2 43.6h.7v.7h-.7zM78.8 43.0h.7v.7h-.7zM73.7 45.5h.7v.7h-.7zM79.1 40.1h.7v.7h-.7zM77.8 47.3h.7v.7h-.7zM78.7 40.6h.7v.7h-.7zM79.5 40.1h.7v.7h-.7zM78.9 37.6h.7v.7h-.7zM74.9 43.6h.7v.7h-.7zM76.1 42.9h.7v.7h-.7zM77.5 41.3h.7v.7h-.7zM76.3 47.1h.7v.7h-.7zM76.7 39.9h.7v.7h-.7zM77.1 42.2h.7v.7h-.7zM75.8 48.8h.7v.7h-.7zM76.6 47.3h.7v.7h-.7zM77.8 48.3h.7v.7h-.7zM83.1 50.4h.7v.7h-.7zM79.6 50.1h.7v.7h-.7zM81.1 60.6h.7v.7h-.7zM81.2 68.7h.7v.7h-.7zM82.4 76.3h.7v.7h-.7zM81.5 76.3h.7v.7h-.7zM81.2 58.8h.7v.7h-.7zM81.6 64.0h.7v.7h-.7zM82.5 66.3h.7v.7h-.7zM81.9 67.0h.7v.7h-.7zM81.3 76.7h.7v.7h-.7zM81.2 72.7h.7v.7h-.7zM81.3 74.8h.7v.7h-.7zM82.3 70.3h.7v.7h-.7zM81.6 70.0h.7v.7h-.7zM81.4 69.7h.7v.7h-.7zM81.9 73.7h.7v.7h-.7zM80.6 61.6h.7v.7h-.7zM82.0 75.3h.7v.7h-.7zM82.1 69.4h.7v.7h-.7zM83.4 75.4h.7v.7h-.7zM80.2 76.7h.7v.7h-.7zM82.1 63.4h.7v.7h-.7zM81.8 75.2h.7v.7h-.7zM80.7 76.4h.7v.7h-.7zM80.6 64.1h.7v.7h-.7zM80.7 64.3h.7v.7h-.7zM81.7 62.4h.7v.7h-.7zM80.4 73.1h.7v.7h-.7zM80.6 71.7h.7v.7h-.7zM79.6 65.8h.7v.7h-.7zM81.3 73.5h.7v.7h-.7zM81.4 71.6h.7v.7h-.7zM80.5 76.0h.7v.7h-.7zM81.4 70.0h.7v.7h-.7zM81.7 65.3h.7v.7h-.7zM82.6 75.2h.7v.7h-.7zM82.2 76.6h.7v.7h-.7zM82.1 70.7h.7v.7h-.7zM81.9 68.7h.7v.7h-.7zM82.0 76.4h.7v.7h-.7zM80.4 66.3h.7v.7h-.7zM82.0 67.5h.7v.7h-.7zM80.9 62.7h.7v.7h-.7zM82.2 72.0h.7v.7h-.7zM82.2 72.9h.7v.7h-.7zM81.0 62.8h.7v.7h-.7zM81.5 66.7h.7v.7h-.7zM81.3 74.8h.7v.7h-.7zM81.7 73.9h.7v.7h-.7zM82.4 59.1h.7v.7h-.7zM80.8 70.6h.7v.7h-.7zM82.6 74.0h.7v.7h-.7zM81.3 75.3h.7v.7h-.7zM82.5 58.5h.7v.7h-.7zM82.3 77.0h.7v.7h-.7zM80.5 69.9h.7v.7h-.7zM80.5 65.8h.7v.7h-.7zM83.0 73.1h.7v.7h-.7zM81.5 70.5h.7v.7h-.7zM82.2 61.6h.7v.7h-.7zM81.0 64.5h.7v.7h-.7zM80.8 61.6h.7v.7h-.7zM80.1 63.1h.7v.7h-.7zM81.4 75.4h.7v.7h-.7zM81.2 69.5h.7v.7h-.7zM81.6 75.1h.7v.7h-.7zM82.3 74.2h.7v.7h-.7zM80.9 64.8h.7v.7h-.7zM81.3 72.0h.7v.7h-.7zM80.6 64.5h.7v.7h-.7zM81.3 77.0h.7v.7h-.7zM81.2 73.5h.7v.7h-.7zM82.2 66.2h.7v.7h-.7zM81.8 65.3h.7v.7h-.7zM81.7 74.8h.7v.7h-.7zM80.7 70.9h.7v.7h-.7zM82.0 75.9h.7v.7h-.7zM80.7 75.9h.7v.7h-.7zM81.7 68.3h.7v.7h-.7zM80.6 66.5h.7v.7h-.7zM81.6 71.9h.7v.7h-.7zM79.9 72.2h.7v.7h-.7zM82.6 60.8h.7v.7h-.7zM81.8 76.4h.7v.7h-.7zM81.1 75.9h.7v.7h-.7zM80.1 66.5h.7v.7h-.7zM80.8 68.9h.7v.7h-.7zM81.0 56.3h.7v.7h-.7zM80.6 75.7h.7v.7h-.7zM79.7 76.5h.7v.7h-.7zM81.3 65.3h.7v.7h-.7zM80.4 75.7h.7v.7h-.7zM81.0 73.3h.7v.7h-.7zM83.0 69.8h.7v.7h-.7zM80.3 73.1h.7v.7h-.7zM81.3 52.7h.7v.7h-.7zM81.1 63.9h.7v.7h-.7zM81.2 69.8h.7v.7h-.7zM82.2 62.8h.7v.7h-.7zM81.3 53.9h.7v.7h-.7zM84.3 51.6h.7v.7h-.7zM81.3 54.3h.7v.7h-.7zM80.2 58.1h.7v.7h-.7zM81.2 55.6h.7v.7h-.7zM81.4 49.6h.7v.7h-.7zM78.2 59.0h.7v.7h-.7zM85.3 57.3h.7v.7h-.7zM83.2 50.6h.7v.7h-.7zM77.8 76.7h.7v.7h-.7zM86.3 61.6h.7v.7h-.7z" fill="#000" fill-opacity="0.38"/>
<path d="M52.4 43.4h.7v.7h-.7zM46.8 36.0h.7v.7h-.7zM55.3 42.2h.7v.7h-.7zM38.8 39.6h.7v.7h-.7zM40.7 32.9h.7v.7h-.7zM45.4 40.4h.7v.7h-.7zM38.7 43.8h.7v.7h-.7zM49.6 40.6h.7v.7h-.7zM48.1 45.6h.7v.7h-.7zM40.2 42.9h.7v.7h-.7zM51.3 40.9h.7v.7h-.7zM38.5 40.1h.7v.7h-.7zM53.8 37.7h.7v.7h-.7zM50.1 39.1h.7v.7h-.7zM38.9 33.9h.7v.7h-.7zM38.4 39.8h.7v.7h-.7zM47.1 33.5h.7v.7h-.7zM51.2 38.1h.7v.7h-.7zM52.7 46.8h.7v.7h-.7zM46.0 41.1h.7v.7h-.7zM38.6 47.0h.7v.7h-.7zM39.4 37.2h.7v.7h-.7zM59.2 37.4h.7v.7h-.7zM55.4 30.9h.7v.7h-.7zM41.9 36.1h.7v.7h-.7zM44.6 37.9h.7v.7h-.7zM38.9 36.0h.7v.7h-.7zM53.3 37.8h.7v.7h-.7zM38.7 33.4h.7v.7h-.7zM38.5 41.0h.7v.7h-.7zM39.7 40.6h.7v.7h-.7zM42.2 41.8h.7v.7h-.7zM39.1 42.8h.7v.7h-.7zM46.9 48.5h.7v.7h-.7zM50.6 41.3h.7v.7h-.7zM38.8 42.4h.7v.7h-.7zM44.1 40.2h.7v.7h-.7zM43.9 41.4h.7v.7h-.7zM39.0 45.4h.7v.7h-.7zM60.1 45.6h.7v.7h-.7zM46.8 35.4h.7v.7h-.7zM38.7 38.4h.7v.7h-.7zM38.5 40.5h.7v.7h-.7zM44.7 42.1h.7v.7h-.7zM38.7 37.4h.7v.7h-.7zM38.6 34.9h.7v.7h-.7zM40.3 37.1h.7v.7h-.7zM38.6 35.4h.7v.7h-.7zM38.6 32.4h.7v.7h-.7zM38.6 38.1h.7v.7h-.7zM44.6 44.3h.7v.7h-.7zM50.1 39.3h.7v.7h-.7zM47.4 40.8h.7v.7h-.7zM38.7 43.9h.7v.7h-.7zM39.0 34.9h.7v.7h-.7zM42.8 33.9h.7v.7h-.7zM38.6 35.4h.7v.7h-.7zM49.0 38.4h.7v.7h-.7zM39.8 36.6h.7v.7h-.7zM38.6 37.4h.7v.7h-.7zM38.5 44.5h.7v.7h-.7zM50.4 35.3h.7v.7h-.7zM50.0 44.3h.7v.7h-.7zM48.3 30.6h.7v.7h-.7zM47.2 36.0h.7v.7h-.7zM55.1 49.2h.7v.7h-.7zM38.7 36.5h.7v.7h-.7zM47.1 33.4h.7v.7h-.7zM44.2 37.7h.7v.7h-.7zM46.0 45.6h.7v.7h-.7zM44.5 40.5h.7v.7h-.7zM55.0 33.9h.7v.7h-.7zM38.4 36.2h.7v.7h-.7zM39.0 45.1h.7v.7h-.7zM40.1 40.5h.7v.7h-.7zM45.4 34.3h.7v.7h-.7zM43.6 33.5h.7v.7h-.7zM41.7 36.8h.7v.7h-.7zM66.8 33.4h.7v.7h-.7zM41.6 37.3h.7v.7h-.7zM43.8 45.3h.7v.7h-.7zM40.8 42.9h.7v.7h-.7zM58.4 42.6h.7v.7h-.7zM41.7 37.8h.7v.7h-.7zM39.0 45.3h.7v.7h-.7zM38.6 40.2h.7v.7h-.7zM50.6 45.5h.7v.7h-.7zM45.7 36.6h.7v.7h-.7zM46.5 40.7h.7v.7h-.7zM38.6 40.7h.7v.7h-.7zM50.2 41.5h.7v.7h-.7zM45.8 33.5h.7v.7h-.7zM41.0 31.9h.7v.7h-.7zM46.3 47.2h.7v.7h-.7zM41.1 35.1h.7v.7h-.7zM38.7 40.5h.7v.7h-.7zM38.8 38.8h.7v.7h-.7zM38.7 35.9h.7v.7h-.7zM38.5 37.0h.7v.7h-.7zM45.7 36.5h.7v.7h-.7zM40.2 42.5h.7v.7h-.7zM48.4 38.8h.7v.7h-.7zM50.4 36.9h.7v.7h-.7zM38.4 37.0h.7v.7h-.7zM38.5 40.2h.7v.7h-.7zM38.7 51.1h.7v.7h-.7zM38.8 42.9h.7v.7h-.7zM57.5 42.7h.7v.7h-.7zM38.4 38.1h.7v.7h-.7zM39.6 31.0h.7v.7h-.7zM38.4 40.0h.7v.7h-.7zM53.5 35.5h.7v.7h-.7zM38.9 40.6h.7v.7h-.7zM44.3 37.0h.7v.7h-.7zM41.8 33.5h.7v.7h-.7zM43.2 39.0h.7v.7h-.7zM55.8 30.5h.7v.7h-.7zM38.6 42.1h.7v.7h-.7zM41.5 37.5h.7v.7h-.7zM51.0 41.8h.7v.7h-.7zM38.8 32.8h.7v.7h-.7zM38.4 31.0h.7v.7h-.7zM38.9 37.6h.7v.7h-.7zM38.6 36.3h.7v.7h-.7zM39.2 47.2h.7v.7h-.7zM39.0 41.8h.7v.7h-.7zM48.3 33.7h.7v.7h-.7zM39.6 37.1h.7v.7h-.7zM48.7 43.9h.7v.7h-.7zM40.6 42.9h.7v.7h-.7zM51.1 34.5h.7v.7h-.7zM38.4 40.4h.7v.7h-.7zM41.8 38.1h.7v.7h-.7zM38.4 33.6h.7v.7h-.7zM51.2 31.4h.7v.7h-.7zM38.6 39.4h.7v.7h-.7zM51.2 36.7h.7v.7h-.7zM38.8 38.8h.7v.7h-.7zM38.5 39.5h.7v.7h-.7zM43.3 41.5h.7v.7h-.7zM43.4 34.5h.7v.7h-.7zM38.9 40.0h.7v.7h-.7zM56.4 45.1h.7v.7h-.7zM38.5 36.3h.7v.7h-.7zM39.0 35.8h.7v.7h-.7zM48.7 38.0h.7v.7h-.7zM39.0 35.7h.7v.7h-.7zM38.5 34.2h.7v.7h-.7zM38.7 38.6h.7v.7h-.7zM47.2 34.7h.7v.7h-.7zM44.9 43.3h.7v.7h-.7zM38.7 44.1h.7v.7h-.7zM54.8 37.1h.7v.7h-.7zM52.9 40.6h.7v.7h-.7zM51.6 39.0h.7v.7h-.7zM40.4 43.6h.7v.7h-.7zM41.0 37.9h.7v.7h-.7zM41.7 38.3h.7v.7h-.7zM38.7 40.7h.7v.7h-.7zM41.1 37.1h.7v.7h-.7zM61.3 37.6h.7v.7h-.7zM38.4 42.4h.7v.7h-.7zM62.7 45.9h.7v.7h-.7zM38.5 40.2h.7v.7h-.7zM38.4 29.7h.7v.7h-.7zM54.3 34.7h.7v.7h-.7zM38.4 33.0h.7v.7h-.7zM42.8 39.9h.7v.7h-.7zM38.5 39.2h.7v.7h-.7zM38.7 39.5h.7v.7h-.7zM53.8 35.8h.7v.7h-.7zM42.1 32.1h.7v.7h-.7zM45.3 35.5h.7v.7h-.7zM49.2 34.6h.7v.7h-.7zM62.5 34.2h.7v.7h-.7zM42.1 31.3h.7v.7h-.7zM38.6 36.9h.7v.7h-.7zM38.5 25.8h.7v.7h-.7zM38.9 40.2h.7v.7h-.7zM53.2 49.5h.7v.7h-.7zM47.7 32.4h.7v.7h-.7zM53.8 43.7h.7v.7h-.7zM38.4 36.6h.7v.7h-.7zM38.6 37.2h.7v.7h-.7zM38.6 38.9h.7v.7h-.7zM38.9 38.8h.7v.7h-.7zM45.3 32.7h.7v.7h-.7zM50.2 38.9h.7v.7h-.7zM39.8 41.7h.7v.7h-.7zM38.5 34.2h.7v.7h-.7zM42.4 35.9h.7v.7h-.7zM52.2 44.3h.7v.7h-.7zM38.7 37.5h.7v.7h-.7zM38.7 38.8h.7v.7h-.7zM38.5 33.5h.7v.7h-.7zM38.4 39.3h.7v.7h-.7zM52.5 42.3h.7v.7h-.7zM38.4 39.4h.7v.7h-.7zM41.8 46.1h.7v.7h-.7zM38.8 39.8h.7v.7h-.7zM40.9 38.6h.7v.7h-.7zM38.9 38.5h.7v.7h-.7zM46.9 39.0h.7v.7h-.7zM47.7 44.8h.7v.7h-.7zM38.9 36.3h.7v.7h-.7zM40.3 33.1h.7v.7h-.7zM38.5 45.7h.7v.7h-.7zM38.6 44.0h.7v.7h-.7zM46.2 39.4h.7v.7h-.7zM50.9 39.6h.7v.7h-.7zM50.9 34.4h.7v.7h-.7zM42.8 44.3h.7v.7h-.7zM38.8 42.4h.7v.7h-.7zM42.2 44.3h.7v.7h-.7zM44.3 44.0h.7v.7h-.7zM44.1 39.7h.7v.7h-.7zM38.4 38.3h.7v.7h-.7zM39.9 31.6h.7v.7h-.7zM44.4 44.5h.7v.7h-.7zM50.4 35.5h.7v.7h-.7zM44.1 44.2h.7v.7h-.7zM54.0 38.1h.7v.7h-.7zM39.1 46.9h.7v.7h-.7zM52.6 36.3h.7v.7h-.7zM55.4 42.2h.7v.7h-.7zM42.8 39.8h.7v.7h-.7zM46.1 32.6h.7v.7h-.7zM39.1 33.8h.7v.7h-.7zM39.1 45.0h.7v.7h-.7zM39.0 37.7h.7v.7h-.7zM47.4 42.4h.7v.7h-.7zM40.3 39.0h.7v.7h-.7zM50.3 39.7h.7v.7h-.7zM40.5 26.7h.7v.7h-.7zM38.7 40.5h.7v.7h-.7zM52.3 38.0h.7v.7h-.7zM50.7 37.1h.7v.7h-.7zM54.4 44.9h.7v.7h-.7zM49.9 39.7h.7v.7h-.7zM46.3 36.5h.7v.7h-.7zM47.2 38.0h.7v.7h-.7zM38.5 32.7h.7v.7h-.7zM44.1 37.9h.7v.7h-.7zM38.7 38.2h.7v.7h-.7zM43.6 41.3h.7v.7h-.7zM48.3 38.5h.7v.7h-.7zM38.6 41.1h.7v.7h-.7zM45.1 38.1h.7v.7h-.7zM43.3 38.1h.7v.7h-.7zM39.8 40.8h.7v.7h-.7zM46.5 37.7h.7v.7h-.7zM42.5 46.0h.7v.7h-.7zM49.1 31.6h.7v.7h-.7zM53.5 35.2h.7v.7h-.7zM43.2 46.9h.7v.7h-.7zM39.1 36.0h.7v.7h-.7zM41.5 46.0h.7v.7h-.7zM53.9 37.8h.7v.7h-.7zM38.8 36.9h.7v.7h-.7zM46.3 38.0h.7v.7h-.7zM42.8 40.0h.7v.7h-.7zM43.1 39.9h.7v.7h-.7zM41.0 41.3h.7v.7h-.7zM49.9 38.0h.7v.7h-.7zM41.9 38.8h.7v.7h-.7zM39.3 40.9h.7v.7h-.7zM46.8 36.6h.7v.7h-.7zM66.7 42.3h.7v.7h-.7zM38.5 37.9h.7v.7h-.7zM38.6 41.3h.7v.7h-.7zM50.7 31.4h.7v.7h-.7zM40.5 35.2h.7v.7h-.7zM40.0 37.5h.7v.7h-.7zM50.0 41.7h.7v.7h-.7zM44.1 26.6h.7v.7h-.7zM63.5 33.0h.7v.7h-.7zM59.3 37.0h.7v.7h-.7zM57.5 36.6h.7v.7h-.7zM63.7 37.1h.7v.7h-.7zM58.3 40.4h.7v.7h-.7zM66.3 32.9h.7v.7h-.7zM68.1 37.7h.7v.7h-.7zM58.2 40.7h.7v.7h-.7zM62.5 37.4h.7v.7h-.7zM59.3 37.4h.7v.7h-.7zM68.5 35.5h.7v.7h-.7zM63.9 37.2h.7v.7h-.7zM74.0 34.1h.7v.7h-.7zM58.8 40.2h.7v.7h-.7zM71.0 31.5h.7v.7h-.7zM57.4 37.0h.7v.7h-.7zM68.7 36.3h.7v.7h-.7zM65.8 37.3h.7v.7h-.7zM63.8 38.7h.7v.7h-.7zM69.2 35.1h.7v.7h-.7zM69.9 36.1h.7v.7h-.7zM63.8 37.1h.7v.7h-.7zM58.6 37.3h.7v.7h-.7zM67.6 37.7h.7v.7h-.7zM57.7 38.0h.7v.7h-.7zM58.1 36.5h.7v.7h-.7zM67.5 32.9h.7v.7h-.7zM59.9 38.9h.7v.7h-.7zM58.5 37.4h.7v.7h-.7zM68.7 33.6h.7v.7h-.7zM63.1 37.3h.7v.7h-.7zM59.0 38.9h.7v.7h-.7zM70.7 32.5h.7v.7h-.7zM62.3 37.7h.7v.7h-.7zM61.0 36.1h.7v.7h-.7zM71.5 33.9h.7v.7h-.7zM64.2 36.4h.7v.7h-.7zM63.5 36.9h.7v.7h-.7zM67.4 34.8h.7v.7h-.7zM67.2 37.1h.7v.7h-.7zM64.9 36.8h.7v.7h-.7zM71.6 30.7h.7v.7h-.7zM44.3 28.3h.7v.7h-.7zM44.0 30.2h.7v.7h-.7zM46.6 26.8h.7v.7h-.7zM45.7 19.4h.7v.7h-.7zM45.9 24.5h.7v.7h-.7zM43.7 16.2h.7v.7h-.7zM39.0 21.5h.7v.7h-.7zM52.8 23.4h.7v.7h-.7zM39.1 21.5h.7v.7h-.7zM76.9 43.7h.7v.7h-.7zM74.8 43.4h.7v.7h-.7zM79.3 36.0h.7v.7h-.7zM77.1 42.7h.7v.7h-.7zM72.6 44.3h.7v.7h-.7zM80.5 42.3h.7v.7h-.7zM74.4 48.1h.7v.7h-.7zM80.2 42.0h.7v.7h-.7zM78.4 38.6h.7v.7h-.7zM75.0 47.7h.7v.7h-.7zM76.1 40.4h.7v.7h-.7zM79.1 40.0h.7v.7h-.7zM78.8 39.0h.7v.7h-.7zM78.7 39.5h.7v.7h-.7zM78.1 39.3h.7v.7h-.7zM79.9 39.7h.7v.7h-.7zM77.1 46.0h.7v.7h-.7zM77.3 42.8h.7v.7h-.7zM74.0 45.6h.7v.7h-.7zM77.0 41.9h.7v.7h-.7zM76.8 40.8h.7v.7h-.7zM78.6 40.2h.7v.7h-.7zM79.3 39.2h.7v.7h-.7zM75.7 46.5h.7v.7h-.7zM80.1 43.0h.7v.7h-.7zM77.0 41.0h.7v.7h-.7zM74.3 46.3h.7v.7h-.7zM78.0 43.4h.7v.7h-.7zM77.3 43.2h.7v.7h-.7zM77.0 40.2h.7v.7h-.7zM78.5 43.1h.7v.7h-.7zM76.1 39.8h.7v.7h-.7zM75.6 41.5h.7v.7h-.7zM77.5 42.5h.7v.7h-.7zM77.4 41.4h.7v.7h-.7zM79.0 38.2h.7v.7h-.7zM77.2 40.7h.7v.7h-.7zM76.1 50.4h.7v.7h-.7zM79.0 49.4h.7v.7h-.7zM76.1 43.7h.7v.7h-.7zM76.9 47.0h.7v.7h-.7zM78.7 47.3h.7v.7h-.7zM81.0 74.3h.7v.7h-.7zM82.0 71.8h.7v.7h-.7zM82.2 51.4h.7v.7h-.7zM82.1 66.8h.7v.7h-.7zM81.1 66.3h.7v.7h-.7zM81.1 72.8h.7v.7h-.7zM82.3 66.5h.7v.7h-.7zM81.4 74.8h.7v.7h-.7zM80.5 59.9h.7v.7h-.7zM82.5 64.8h.7v.7h-.7zM80.9 70.0h.7v.7h-.7zM81.0 62.5h.7v.7h-.7zM81.1 73.1h.7v.7h-.7zM81.0 65.5h.7v.7h-.7zM80.9 61.6h.7v.7h-.7zM81.8 73.5h.7v.7h-.7zM79.9 71.8h.7v.7h-.7zM82.1 76.6h.7v.7h-.7zM81.3 74.4h.7v.7h-.7zM82.8 66.5h.7v.7h-.7zM81.6 73.9h.7v.7h-.7zM81.2 74.1h.7v.7h-.7zM81.6 72.6h.7v.7h-.7zM80.1 76.7h.7v.7h-.7zM80.8 65.0h.7v.7h-.7zM81.5 69.2h.7v.7h-.7zM81.2 73.1h.7v.7h-.7zM81.0 61.4h.7v.7h-.7zM79.9 73.7h.7v.7h-.7zM81.5 68.8h.7v.7h-.7zM81.8 69.7h.7v.7h-.7zM81.5 60.1h.7v.7h-.7zM81.4 59.9h.7v.7h-.7zM81.1 58.3h.7v.7h-.7zM81.6 74.5h.7v.7h-.7zM80.7 60.9h.7v.7h-.7zM80.6 69.0h.7v.7h-.7zM82.3 75.7h.7v.7h-.7zM80.3 75.8h.7v.7h-.7zM80.1 75.6h.7v.7h-.7zM81.4 77.1h.7v.7h-.7zM80.5 75.0h.7v.7h-.7zM80.7 74.1h.7v.7h-.7zM81.8 75.6h.7v.7h-.7zM82.1 65.9h.7v.7h-.7zM80.6 67.0h.7v.7h-.7zM80.4 75.4h.7v.7h-.7zM80.1 63.6h.7v.7h-.7zM81.0 67.6h.7v.7h-.7zM82.1 73.2h.7v.7h-.7zM81.2 70.7h.7v.7h-.7zM83.2 74.6h.7v.7h-.7zM80.2 72.0h.7v.7h-.7zM81.2 69.1h.7v.7h-.7zM79.7 75.9h.7v.7h-.7zM81.1 77.0h.7v.7h-.7zM81.1 72.7h.7v.7h-.7zM80.6 72.1h.7v.7h-.7zM80.6 73.3h.7v.7h-.7zM79.7 74.5h.7v.7h-.7zM82.3 65.0h.7v.7h-.7zM80.7 65.0h.7v.7h-.7zM82.1 63.7h.7v.7h-.7zM80.5 74.1h.7v.7h-.7zM81.0 62.2h.7v.7h-.7zM81.6 64.5h.7v.7h-.7zM81.4 74.1h.7v.7h-.7zM81.3 68.6h.7v.7h-.7zM81.4 61.6h.7v.7h-.7zM82.0 67.6h.7v.7h-.7zM82.0 72.4h.7v.7h-.7zM82.3 73.6h.7v.7h-.7zM81.3 69.6h.7v.7h-.7zM80.3 60.7h.7v.7h-.7zM81.6 74.5h.7v.7h-.7zM79.4 65.4h.7v.7h-.7zM82.7 62.6h.7v.7h-.7zM82.8 76.9h.7v.7h-.7zM80.9 66.4h.7v.7h-.7zM81.5 76.3h.7v.7h-.7zM81.7 75.9h.7v.7h-.7zM80.8 76.1h.7v.7h-.7zM83.1 51.1h.7v.7h-.7zM81.0 77.1h.7v.7h-.7zM81.0 76.1h.7v.7h-.7zM81.7 59.8h.7v.7h-.7zM81.3 72.8h.7v.7h-.7zM81.2 62.1h.7v.7h-.7zM80.5 70.7h.7v.7h-.7zM81.9 65.5h.7v.7h-.7zM80.3 56.3h.7v.7h-.7zM81.8 68.5h.7v.7h-.7zM81.2 74.5h.7v.7h-.7zM80.3 72.1h.7v.7h-.7zM81.5 72.2h.7v.7h-.7zM82.3 75.3h.7v.7h-.7zM82.0 73.1h.7v.7h-.7zM80.8 67.8h.7v.7h-.7zM81.6 76.5h.7v.7h-.7zM82.8 53.0h.7v.7h-.7zM82.7 59.4h.7v.7h-.7zM81.1 49.5h.7v.7h-.7zM83.2 56.2h.7v.7h-.7zM81.6 56.6h.7v.7h-.7zM85.8 62.5h.7v.7h-.7zM82.9 60.1h.7v.7h-.7zM82.5 46.7h.7v.7h-.7zM73.4 48.2h.7v.7h-.7zM75.3 45.4h.7v.7h-.7z" fill="#000" fill-opacity="0.38"/>
<path d="M38.6 40.4h.7v.7h-.7zM41.5 39.8h.7v.7h-.7zM41.2 39.1h.7v.7h-.7zM45.9 41.2h.7v.7h-.7zM47.8 45.6h.7v.7h-.7zM39.1 34.2h.7v.7h-.7zM38.6 39.3h.7v.7h-.7zM40.0 45.0h.7v.7h-.7zM39.4 45.2h.7v.7h-.7zM38.4 41.8h.7v.7h-.7zM38.4 36.9h.7v.7h-.7zM43.1 37.0h.7v.7h-.7zM49.0 31.3h.7v.7h-.7zM38.9 38.5h.7v.7h-.7zM44.9 43.1h.7v.7h-.7zM41.8 35.1h.7v.7h-.7zM41.1 38.6h.7v.7h-.7zM47.1 35.3h.7v.7h-.7zM57.2 36.5h.7v.7h-.7zM41.2 42.7h.7v.7h-.7zM46.8 37.4h.7v.7h-.7zM38.5 42.5h.7v.7h-.7zM38.9 36.1h.7v.7h-.7zM45.6 42.4h.7v.7h-.7zM40.3 37.3h.7v.7h-.7zM41.2 34.0h.7v.7h-.7zM52.3 36.4h.7v.7h-.7zM46.5 40.4h.7v.7h-.7zM38.9 38.8h.7v.7h-.7zM38.6 35.7h.7v.7h-.7zM39.0 42.2h.7v.7h-.7zM49.8 33.8h.7v.7h-.7zM38.9 38.2h.7v.7h-.7zM46.6 47.2h.7v.7h-.7zM41.1 43.1h.7v.7h-.7zM38.6 41.8h.7v.7h-.7zM39.1 38.9h.7v.7h-.7zM51.2 38.4h.7v.7h-.7zM59.1 48.0h.7v.7h-.7zM38.5 45.6h.7v.7h-.7zM46.6 41.6h.7v.7h-.7zM40.6 36.8h.7v.7h-.7zM47.3 38.7h.7v.7h-.7zM42.8 42.8h.7v.7h-.7zM45.3 34.9h.7v.7h-.7zM49.5 48.8h.7v.7h-.7zM38.5 47.6h.7v.7h-.7zM38.7 38.3h.7v.7h-.7zM42.1 38.8h.7v.7h-.7zM46.1 34.8h.7v.7h-.7zM50.5 36.8h.7v.7h-.7zM43.4 43.5h.7v.7h-.7zM38.5 30.6h.7v.7h-.7zM45.1 43.8h.7v.7h-.7zM47.9 29.4h.7v.7h-.7zM38.4 42.2h.7v.7h-.7zM38.5 30.8h.7v.7h-.7zM56.2 37.0h.7v.7h-.7zM38.7 29.7h.7v.7h-.7zM44.6 37.5h.7v.7h-.7zM40.1 41.9h.7v.7h-.7zM56.7 24.5h.7v.7h-.7zM48.1 36.5h.7v.7h-.7zM59.2 35.9h.7v.7h-.7zM52.7 46.2h.7v.7h-.7zM38.6 34.5h.7v.7h-.7zM52.4 33.3h.7v.7h-.7zM39.0 34.0h.7v.7h-.7zM47.4 42.0h.7v.7h-.7zM40.2 44.7h.7v.7h-.7zM46.6 38.4h.7v.7h-.7zM44.9 38.9h.7v.7h-.7zM44.4 42.1h.7v.7h-.7zM53.3 37.5h.7v.7h-.7zM38.8 39.5h.7v.7h-.7zM38.6 36.8h.7v.7h-.7zM38.9 41.9h.7v.7h-.7zM55.9 32.2h.7v.7h-.7zM38.4 30.3h.7v.7h-.7zM49.2 41.9h.7v.7h-.7zM64.4 44.4h.7v.7h-.7zM38.7 41.8h.7v.7h-.7zM49.9 46.8h.7v.7h-.7zM44.9 47.0h.7v.7h-.7zM52.8 34.9h.7v.7h-.7zM39.4 42.0h.7v.7h-.7zM46.8 40.9h.7v.7h-.7zM45.2 47.7h.7v.7h-.7zM55.7 34.9h.7v.7h-.7zM38.7 45.3h.7v.7h-.7zM40.9 42.9h.7v.7h-.7zM38.9 44.4h.7v.7h-.7zM44.7 42.6h.7v.7h-.7zM38.7 44.5h.7v.7h-.7zM50.4 42.1h.7v.7h-.7zM43.0 41.7h.7v.7h-.7zM38.7 40.0h.7v.7h-.7zM45.7 33.6h.7v.7h-.7zM45.1 36.8h.7v.7h-.7zM45.2 41.0h.7v.7h-.7zM38.9 39.2h.7v.7h-.7zM41.6 42.7h.7v.7h-.7zM52.8 35.2h.7v.7h-.7zM39.6 44.6h.7v.7h-.7zM41.7 43.0h.7v.7h-.7zM38.5 42.8h.7v.7h-.7zM48.4 33.6h.7v.7h-.7zM38.6 37.1h.7v.7h-.7zM53.0 33.4h.7v.7h-.7zM38.4 34.4h.7v.7h-.7zM38.6 36.9h.7v.7h-.7zM38.8 41.3h.7v.7h-.7zM39.4 39.8h.7v.7h-.7zM40.4 40.8h.7v.7h-.7zM39.6 42.0h.7v.7h-.7zM40.3 38.9h.7v.7h-.7zM38.5 38.7h.7v.7h-.7zM50.0 37.6h.7v.7h-.7zM48.7 36.9h.7v.7h-.7zM39.1 41.0h.7v.7h-.7zM41.1 41.0h.7v.7h-.7zM50.9 44.4h.7v.7h-.7zM39.3 45.4h.7v.7h-.7zM38.4 33.3h.7v.7h-.7zM44.1 39.3h.7v.7h-.7zM45.0 41.9h.7v.7h-.7zM48.7 37.4h.7v.7h-.7zM41.0 40.0h.7v.7h-.7zM38.6 43.5h.7v.7h-.7zM38.8 38.6h.7v.7h-.7zM49.1 45.3h.7v.7h-.7zM38.5 43.7h.7v.7h-.7zM46.1 38.2h.7v.7h-.7zM46.2 37.0h.7v.7h-.7zM38.9 41.3h.7v.7h-.7zM38.9 34.2h.7v.7h-.7zM42.4 32.2h.7v.7h-.7zM44.9 41.4h.7v.7h-.7zM41.9 33.0h.7v.7h-.7zM46.7 39.3h.7v.7h-.7zM39.2 31.8h.7v.7h-.7zM40.5 36.6h.7v.7h-.7zM40.7 35.1h.7v.7h-.7zM39.8 37.0h.7v.7h-.7zM53.2 36.1h.7v.7h-.7zM55.2 46.7h.7v.7h-.7zM44.1 43.4h.7v.7h-.7zM39.0 41.5h.7v.7h-.7zM49.1 31.7h.7v.7h-.7zM56.0 32.6h.7v.7h-.7zM38.7 37.2h.7v.7h-.7zM56.8 48.6h.7v.7h-.7zM43.9 41.4h.7v.7h-.7zM49.6 34.5h.7v.7h-.7zM38.6 38.3h.7v.7h-.7zM38.5 53.0h.7v.7h-.7zM40.4 34.5h.7v.7h-.7zM40.2 44.4h.7v.7h-.7zM44.0 34.3h.7v.7h-.7zM39.4 44.2h.7v.7h-.7zM39.0 33.8h.7v.7h-.7zM38.8 31.8h.7v.7h-.7zM45.3 33.5h.7v.7h-.7zM38.5 38.0h.7v.7h-.7zM51.5 31.5h.7v.7h-.7zM39.1 42.8h.7v.7h-.7zM49.3 44.0h.7v.7h-.7zM38.6 43.1h.7v.7h-.7zM39.7 41.6h.7v.7h-.7zM56.6 41.9h.7v.7h-.7zM56.1 41.4h.7v.7h-.7zM38.8 46.1h.7v.7h-.7zM43.2 36.9h.7v.7h-.7zM49.5 38.8h.7v.7h-.7zM45.6 44.3h.7v.7h-.7zM38.6 35.9h.7v.7h-.7zM44.8 43.7h.7v.7h-.7zM38.5 33.2h.7v.7h-.7zM59.3 45.0h.7v.7h-.7zM40.7 40.1h.7v.7h-.7zM50.2 41.6h.7v.7h-.7zM39.0 42.7h.7v.7h-.7zM39.3 38.5h.7v.7h-.7zM42.7 41.8h.7v.7h-.7zM38.7 45.2h.7v.7h-.7zM38.8 32.6h.7v.7h-.7zM38.9 40.1h.7v.7h-.7zM43.1 43.7h.7v.7h-.7zM43.8 37.7h.7v.7h-.7zM38.6 41.2h.7v.7h-.7zM39.0 40.9h.7v.7h-.7zM38.7 44.8h.7v.7h-.7zM46.3 43.8h.7v.7h-.7zM39.0 38.5h.7v.7h-.7zM38.5 35.9h.7v.7h-.7zM63.1 51.0h.7v.7h-.7zM51.9 45.1h.7v.7h-.7zM51.6 39.2h.7v.7h-.7zM52.2 38.3h.7v.7h-.7zM60.5 44.2h.7v.7h-.7zM47.6 37.1h.7v.7h-.7zM38.5 45.3h.7v.7h-.7zM48.0 46.8h.7v.7h-.7zM41.0 35.7h.7v.7h-.7zM38.5 41.9h.7v.7h-.7zM49.5 40.1h.7v.7h-.7zM42.6 32.2h.7v.7h-.7zM43.2 31.7h.7v.7h-.7zM46.3 38.4h.7v.7h-.7zM58.6 42.7h.7v.7h-.7zM56.3 41.6h.7v.7h-.7zM38.6 37.9h.7v.7h-.7zM40.8 41.2h.7v.7h-.7zM39.0 36.6h.7v.7h-.7zM46.8 52.1h.7v.7h-.7zM42.8 43.3h.7v.7h-.7zM46.5 37.6h.7v.7h-.7zM60.2 49.1h.7v.7h-.7zM47.3 39.4h.7v.7h-.7zM38.6 26.0h.7v.7h-.7zM38.9 36.1h.7v.7h-.7zM47.0 38.4h.7v.7h-.7zM38.8 35.3h.7v.7h-.7zM60.3 42.0h.7v.7h-.7zM49.2 37.5h.7v.7h-.7zM38.8 42.0h.7v.7h-.7zM41.2 47.2h.7v.7h-.7zM53.3 39.6h.7v.7h-.7zM45.3 40.5h.7v.7h-.7zM38.6 40.8h.7v.7h-.7zM39.0 35.6h.7v.7h-.7zM38.8 37.0h.7v.7h-.7zM48.4 46.9h.7v.7h-.7zM38.9 39.2h.7v.7h-.7zM54.2 35.2h.7v.7h-.7zM48.2 34.0h.7v.7h-.7zM38.4 40.1h.7v.7h-.7zM53.2 34.5h.7v.7h-.7zM46.6 39.4h.7v.7h-.7zM38.8 31.5h.7v.7h-.7zM38.7 42.5h.7v.7h-.7zM38.8 35.6h.7v.7h-.7zM51.5 32.5h.7v.7h-.7zM43.8 43.1h.7v.7h-.7zM38.6 38.1h.7v.7h-.7zM45.7 34.0h.7v.7h-.7zM38.6 43.2h.7v.7h-.7zM40.6 32.5h.7v.7h-.7zM42.7 32.0h.7v.7h-.7zM43.1 34.8h.7v.7h-.7zM46.8 40.2h.7v.7h-.7zM39.0 29.9h.7v.7h-.7zM41.5 40.5h.7v.7h-.7zM38.6 41.1h.7v.7h-.7zM48.4 43.0h.7v.7h-.7zM38.6 36.6h.7v.7h-.7zM50.9 44.3h.7v.7h-.7zM55.3 37.4h.7v.7h-.7zM38.5 37.4h.7v.7h-.7zM39.4 29.0h.7v.7h-.7zM41.8 40.8h.7v.7h-.7zM43.9 40.1h.7v.7h-.7zM38.6 37.8h.7v.7h-.7zM40.6 35.4h.7v.7h-.7zM38.5 50.2h.7v.7h-.7zM39.1 37.8h.7v.7h-.7zM48.5 38.5h.7v.7h-.7zM39.1 43.2h.7v.7h-.7zM44.4 38.4h.7v.7h-.7zM48.2 54.1h.7v.7h-.7zM44.0 41.1h.7v.7h-.7zM38.9 33.4h.7v.7h-.7zM38.6 39.3h.7v.7h-.7zM38.5 39.8h.7v.7h-.7zM57.4 35.6h.7v.7h-.7zM67.1 35.1h.7v.7h-.7zM66.6 36.0h.7v.7h-.7zM61.6 35.8h.7v.7h-.7zM71.7 36.2h.7v.7h-.7zM63.4 37.5h.7v.7h-.7zM66.2 35.9h.7v.7h-.7zM59.0 39.2h.7v.7h-.7zM67.5 35.4h.7v.7h-.7zM57.6 37.9h.7v.7h-.7zM70.5 37.5h.7v.7h-.7zM62.5 35.0h.7v.7h-.7zM65.0 38.4h.7v.7h-.7zM60.9 36.3h.7v.7h-.7zM65.5 34.8h.7v.7h-.7zM56.6 35.0h.7v.7h-.7zM58.9 33.1h.7v.7h-.7zM72.7 32.3h.7v.7h-.7zM70.7 33.0h.7v.7h-.7zM64.9 37.9h.7v.7h-.7zM58.4 39.2h.7v.7h-.7zM61.2 37.6h.7v.7h-.7zM61.6 34.2h.7v.7h-.7zM63.7 31.0h.7v.7h-.7zM65.5 37.2h.7v.7h-.7zM65.4 37.5h.7v.7h-.7zM58.0 40.2h.7v.7h-.7zM67.9 36.7h.7v.7h-.7zM59.4 38.6h.7v.7h-.7zM68.6 36.5h.7v.7h-.7zM70.1 35.9h.7v.7h-.7zM59.1 36.5h.7v.7h-.7zM66.1 34.5h.7v.7h-.7zM70.2 32.8h.7v.7h-.7zM67.0 34.5h.7v.7h-.7zM62.5 34.6h.7v.7h-.7zM64.2 41.6h.7v.7h-.7zM70.2 35.2h.7v.7h-.7zM57.4 37.1h.7v.7h-.7zM73.2 33.4h.7v.7h-.7zM71.3 37.0h.7v.7h-.7zM65.1 37.0h.7v.7h-.7zM60.8 38.5h.7v.7h-.7zM43.4 27.6h.7v.7h-.7zM44.5 22.4h.7v.7h-.7zM44.7 25.3h.7v.7h-.7zM49.9 22.5h.7v.7h-.7zM43.1 23.9h.7v.7h-.7zM39.1 23.4h.7v.7h-.7zM43.3 28.1h.7v.7h-.7zM51.7 25.0h.7v.7h-.7zM50.9 30.1h.7v.7h-.7zM80.3 35.4h.7v.7h-.7zM80.1 42.0h.7v.7h-.7zM80.2 37.8h.7v.7h-.7zM78.2 41.1h.7v.7h-.7zM78.9 40.6h.7v.7h-.7zM77.0 42.5h.7v.7h-.7zM74.7 45.6h.7v.7h-.7zM75.9 44.3h.7v.7h-.7zM77.0 41.9h.7v.7h-.7zM77.5 43.5h.7v.7h-.7zM78.7 38.4h.7v.7h-.7zM73.9 43.6h.7v.7h-.7zM79.1 41.3h.7v.7h-.7zM75.1 41.4h.7v.7h-.7zM74.5 43.7h.7v.7h-.7zM79.3 39.1h.7v.7h-.7zM76.2 44.5h.7v.7h-.7zM76.1 44.5h.7v.7h-.7zM76.0 43.2h.7v.7h-.7zM75.0 41.8h.7v.7h-.7zM78.1 38.1h.7v.7h-.7zM79.7 37.1h.7v.7h-.7zM76.2 45.8h.7v.7h-.7zM78.6 41.2h.7v.7h-.7zM76.8 44.9h.7v.7h-.7zM76.4 40.4h.7v.7h-.7zM74.2 44.4h.7v.7h-.7zM76.1 46.7h.7v.7h-.7zM76.3 45.3h.7v.7h-.7zM76.8 41.8h.7v.7h-.7zM78.0 39.3h.7v.7h-.7zM76.4 40.4h.7v.7h-.7zM74.9 44.9h.7v.7h-.7zM78.1 44.5h.7v.7h-.7zM75.1 46.5h.7v.7h-.7zM79.0 41.5h.7v.7h-.7zM76.5 40.6h.7v.7h-.7zM78.8 40.1h.7v.7h-.7zM80.9 47.1h.7v.7h-.7zM80.3 48.5h.7v.7h-.7zM75.6 45.4h.7v.7h-.7zM75.6 46.8h.7v.7h-.7zM80.2 41.7h.7v.7h-.7zM81.8 73.6h.7v.7h-.7zM81.7 74.7h.7v.7h-.7zM82.7 77.0h.7v.7h-.7zM81.6 76.6h.7v.7h-.7zM80.8 71.1h.7v.7h-.7zM80.2 63.7h.7v.7h-.7zM79.8 67.9h.7v.7h-.7zM81.4 57.7h.7v.7h-.7zM82.2 72.2h.7v.7h-.7zM82.1 71.0h.7v.7h-.7zM80.9 59.5h.7v.7h-.7zM81.7 73.3h.7v.7h-.7zM81.9 57.8h.7v.7h-.7zM79.7 62.9h.7v.7h-.7zM81.2 76.4h.7v.7h-.7zM81.8 60.7h.7v.7h-.7zM81.7 61.7h.7v.7h-.7zM81.9 68.6h.7v.7h-.7zM80.5 58.7h.7v.7h-.7zM82.1 68.3h.7v.7h-.7zM80.3 76.5h.7v.7h-.7zM81.6 75.0h.7v.7h-.7zM81.9 62.8h.7v.7h-.7zM82.8 70.2h.7v.7h-.7zM82.0 69.7h.7v.7h-.7zM80.5 72.5h.7v.7h-.7zM81.9 71.9h.7v.7h-.7zM81.2 69.0h.7v.7h-.7zM81.7 63.2h.7v.7h-.7zM81.2 74.6h.7v.7h-.7zM81.6 66.0h.7v.7h-.7zM80.4 65.7h.7v.7h-.7zM82.1 74.5h.7v.7h-.7zM81.3 74.7h.7v.7h-.7zM80.8 63.7h.7v.7h-.7zM81.6 64.3h.7v.7h-.7zM81.6 66.0h.7v.7h-.7zM81.4 68.7h.7v.7h-.7zM81.4 76.3h.7v.7h-.7zM80.1 73.4h.7v.7h-.7zM82.1 62.2h.7v.7h-.7zM81.9 72.5h.7v.7h-.7zM81.1 73.2h.7v.7h-.7zM81.7 70.2h.7v.7h-.7zM80.8 70.3h.7v.7h-.7zM80.2 77.1h.7v.7h-.7zM81.8 68.2h.7v.7h-.7zM79.6 62.7h.7v.7h-.7zM81.7 66.1h.7v.7h-.7zM80.9 60.9h.7v.7h-.7zM82.7 66.7h.7v.7h-.7zM81.3 66.1h.7v.7h-.7zM81.6 73.5h.7v.7h-.7zM82.0 75.5h.7v.7h-.7zM82.6 73.9h.7v.7h-.7zM82.1 75.7h.7v.7h-.7zM81.0 70.2h.7v.7h-.7zM82.0 75.8h.7v.7h-.7zM80.5 66.7h.7v.7h-.7zM80.9 52.3h.7v.7h-.7zM80.9 65.6h.7v.7h-.7zM81.2 64.2h.7v.7h-.7zM79.7 73.2h.7v.7h-.7zM81.3 64.2h.7v.7h-.7zM81.7 72.2h.7v.7h-.7zM82.6 71.8h.7v.7h-.7zM81.0 65.2h.7v.7h-.7zM80.8 60.5h.7v.7h-.7zM80.3 75.3h.7v.7h-.7zM80.4 51.0h.7v.7h-.7zM82.0 72.8h.7v.7h-.7zM81.3 68.7h.7v.7h-.7zM80.6 73.4h.7v.7h-.7zM80.7 65.8h.7v.7h-.7zM81.6 64.6h.7v.7h-.7zM80.9 71.3h.7v.7h-.7zM81.5 65.2h.7v.7h-.7zM80.8 68.1h.7v.7h-.7zM81.4 73.2h.7v.7h-.7zM83.1 72.3h.7v.7h-.7zM81.4 64.8h.7v.7h-.7zM80.2 63.7h.7v.7h-.7zM80.1 61.5h.7v.7h-.7zM81.2 76.2h.7v.7h-.7zM81.8 71.9h.7v.7h-.7zM81.6 52.6h.7v.7h-.7zM83.4 70.2h.7v.7h-.7zM80.9 71.5h.7v.7h-.7zM81.9 71.3h.7v.7h-.7zM80.3 77.0h.7v.7h-.7zM81.7 64.7h.7v.7h-.7zM80.5 65.3h.7v.7h-.7zM82.0 65.9h.7v.7h-.7zM81.3 65.5h.7v.7h-.7zM81.7 75.6h.7v.7h-.7zM81.7 73.2h.7v.7h-.7zM80.7 72.6h.7v.7h-.7zM80.6 68.9h.7v.7h-.7zM82.0 76.0h.7v.7h-.7zM79.0 54.4h.7v.7h-.7zM81.5 54.8h.7v.7h-.7zM78.5 56.1h.7v.7h-.7zM81.4 65.3h.7v.7h-.7zM83.1 51.4h.7v.7h-.7zM82.7 54.5h.7v.7h-.7zM80.7 75.6h.7v.7h-.7zM82.7 38.1h.7v.7h-.7zM84.0 64.4h.7v.7h-.7zM78.7 62.8h.7v.7h-.7z" fill="#000" fill-opacity="0.38"/>
<path d="M42.2 63.8h.8v.8h-.8zM43.3 55.8h.8v.8h-.8zM45.4 55.5h.8v.8h-.8zM38.7 65.7h.8v.8h-.8zM45.0 61.0h.8v.8h-.8zM40.4 60.7h.8v.8h-.8zM39.1 58.4h.8v.8h-.8zM47.9 55.2h.8v.8h-.8zM47.7 52.8h.8v.8h-.8zM44.7 65.7h.8v.8h-.8zM43.8 54.7h.8v.8h-.8zM40.2 49.1h.8v.8h-.8zM48.1 72.7h.8v.8h-.8zM46.9 68.3h.8v.8h-.8zM45.2 62.6h.8v.8h-.8zM41.7 57.9h.8v.8h-.8zM40.8 60.0h.8v.8h-.8zM41.8 47.0h.8v.8h-.8zM46.7 58.3h.8v.8h-.8zM38.8 60.6h.8v.8h-.8zM42.5 56.9h.8v.8h-.8zM47.8 61.9h.8v.8h-.8zM45.1 52.4h.8v.8h-.8zM48.1 59.8h.8v.8h-.8zM43.6 58.2h.8v.8h-.8zM46.9 53.5h.8v.8h-.8zM44.4 47.9h.8v.8h-.8zM43.3 55.2h.8v.8h-.8zM40.3 58.5h.8v.8h-.8zM47.3 65.6h.8v.8h-.8zM40.7 52.8h.8v.8h-.8zM39.5 65.7h.8v.8h-.8zM45.1 64.0h.8v.8h-.8zM39.1 53.6h.8v.8h-.8zM40.2 47.6h.8v.8h-.8zM41.9 62.5h.8v.8h-.8zM43.1 58.8h.8v.8h-.8zM43.9 64.3h.8v.8h-.8zM41.8 48.9h.8v.8h-.8zM43.4 51.7h.8v.8h-.8zM41.8 58.4h.8v.8h-.8zM39.9 58.9h.8v.8h-.8zM43.6 58.3h.8v.8h-.8zM43.4 56.1h.8v.8h-.8zM48.6 52.6h.8v.8h-.8zM44.2 47.4h.8v.8h-.8zM39.8 54.8h.8v.8h-.8zM44.2 62.3h.8v.8h-.8zM41.3 66.1h.8v.8h-.8zM47.6 54.2h.8v.8h-.8zM39.9 47.5h.8v.8h-.8zM39.9 64.2h.8v.8h-.8zM42.6 49.6h.8v.8h-.8zM41.7 60.0h.8v.8h-.8zM42.8 53.8h.8v.8h-.8zM47.2 69.2h.8v.8h-.8zM47.2 52.9h.8v.8h-.8zM40.8 63.0h.8v.8h-.8zM43.8 59.3h.8v.8h-.8zM39.2 60.5h.8v.8h-.8zM46.4 63.0h.8v.8h-.8zM48.0 63.7h.8v.8h-.8zM57.1 56.2h.8v.8h-.8zM51.7 58.6h.8v.8h-.8zM57.2 56.9h.8v.8h-.8zM49.1 57.0h.8v.8h-.8zM59.3 57.8h.8v.8h-.8zM53.4 58.5h.8v.8h-.8zM59.7 54.6h.8v.8h-.8zM61.4 59.4h.8v.8h-.8zM51.7 56.2h.8v.8h-.8zM51.3 60.0h.8v.8h-.8zM60.9 62.3h.8v.8h-.8zM62.9 53.6h.8v.8h-.8zM62.7 73.3h.8v.8h-.8zM48.8 58.2h.8v.8h-.8zM62.1 53.1h.8v.8h-.8zM57.2 48.7h.8v.8h-.8zM49.3 18.9h.8v.8h-.8zM49.5 13.7h.8v.8h-.8zM46.7 20.3h.8v.8h-.8zM42.2 16.6h.8v.8h-.8zM41.8 29.0h.8v.8h-.8zM47.4 16.8h.8v.8h-.8zM45.8 19.6h.8v.8h-.8zM48.6 22.1h.8v.8h-.8zM45.0 26.3h.8v.8h-.8zM42.5 24.5h.8v.8h-.8zM47.6 22.1h.8v.8h-.8zM49.2 21.9h.8v.8h-.8zM45.3 23.8h.8v.8h-.8zM40.0 17.2h.8v.8h-.8zM43.4 27.3h.8v.8h-.8zM51.8 14.8h.8v.8h-.8zM49.7 18.6h.8v.8h-.8zM39.6 26.6h.8v.8h-.8zM44.4 14.1h.8v.8h-.8zM53.3 21.0h.8v.8h-.8zM47.0 27.1h.8v.8h-.8zM40.0 20.7h.8v.8h-.8zM50.9 18.6h.8v.8h-.8zM46.6 18.6h.8v.8h-.8zM38.6 20.1h.8v.8h-.8zM48.5 25.5h.8v.8h-.8zM43.2 22.4h.8v.8h-.8zM42.4 25.0h.8v.8h-.8zM42.7 23.5h.8v.8h-.8zM40.3 21.4h.8v.8h-.8zM43.0 17.6h.8v.8h-.8zM51.6 22.8h.8v.8h-.8zM52.4 16.1h.8v.8h-.8zM40.2 24.8h.8v.8h-.8zM55.2 29.5h.8v.8h-.8zM50.4 25.5h.8v.8h-.8zM53.9 21.2h.8v.8h-.8zM48.4 28.4h.8v.8h-.8zM39.3 19.8h.8v.8h-.8zM49.2 27.9h.8v.8h-.8zM47.1 23.2h.8v.8h-.8zM44.6 23.9h.8v.8h-.8zM46.0 24.6h.8v.8h-.8zM44.5 17.8h.8v.8h-.8zM43.7 21.2h.8v.8h-.8zM39.7 27.8h.8v.8h-.8zM47.9 21.2h.8v.8h-.8zM45.1 20.9h.8v.8h-.8zM43.8 23.6h.8v.8h-.8z" fill="#000" fill-opacity="0.2"/>
</g>
<path d="M38.2,31.7 L48,31.7 C53,31.9 56.5,33.4 58.6,35.3 C60.2,36.9 60.6,38.4 59.6,40 C58.2,41.9 56,43.6 53,45 C50.3,46.2 46.5,46.6 38.2,46.6 Z" fill="#000" filter="url(#bl4)"/>
<g filter="url(#bl)">
<ellipse cx="77.2" cy="42.4" rx="2.4" ry="4.6" transform="rotate(20 77.2 42.4)" fill="#000"/>
<path d="M80.7,58 L81.9,58 L82.4,63 L82.7,76.9 L79.9,76.9 L80.1,63 Z" fill="#000"/>
</g>
<rect x="70.6" y="33.1" width="16.9" height="44.4" fill="none" stroke="#999" stroke-width="0.6"/>
<line x1="86" y1="41.8" x2="104" y2="41.8" stroke="#555" stroke-width="0.9"/>
<circle cx="86" cy="41.8" r="0.9" fill="#333"/>
<line x1="89" y1="71.2" x2="104" y2="71.2" stroke="#555" stroke-width="0.9"/>
<circle cx="89" cy="71.2" r="0.9" fill="#333"/>
<line x1="43.3" y1="11.6" x2="43.3" y2="24.5" stroke="#555" stroke-width="0.7"/>
<path d="M42.4,23.5 L44.2,23.5 L43.3,26 Z" fill="#333"/>
<text x="38.3" y="7.15" font-size="8.0" textLength="31.4" lengthAdjust="spacingAndGlyphs" fill="#111">recipient</text>
<text x="108" y="44.7" font-size="8.3" textLength="33.5" lengthAdjust="spacingAndGlyphs" fill="#111">WT OT-II</text>
<text x="108.2" y="74.5" font-size="8.3" textLength="23.1" lengthAdjust="spacingAndGlyphs" fill="#111">CCR9</text>
<text x="131.6" y="70.5" font-size="6.2" textLength="6.2" lengthAdjust="spacingAndGlyphs" fill="#111">-/-</text>
<text x="141.1" y="74.5" font-size="8.3" textLength="18.1" lengthAdjust="spacingAndGlyphs" fill="#111">OT-II</text>
<line x1="38" y1="85.7" x2="57.2" y2="85.7" stroke="#555" stroke-width="0.8"/>
<line x1="80.6" y1="85.7" x2="103" y2="85.7" stroke="#555" stroke-width="0.8"/>
<path d="M101.5,84.5 L104.5,85.7 L101.5,86.9 Z" fill="#333"/>
<text x="59.0" y="87.6" font-size="8.6" textLength="19.9" lengthAdjust="spacingAndGlyphs" fill="#111">Ly5.2</text>
<line x1="32" y1="15" x2="32" y2="31.4" stroke="#555" stroke-width="0.8"/>
<line x1="32" y1="54.8" x2="32" y2="78" stroke="#555" stroke-width="0.8"/>
<path d="M30.8,16 L32,13 L33.2,16 Z" fill="#333"/>
<text x="0" y="0" font-size="8.6" textLength="20.2" lengthAdjust="spacingAndGlyphs" fill="#111" transform="translate(34.0,53.8) rotate(-90)">Ly5.1</text>
<line x1="36.4" y1="97.6" x2="36.4" y2="212.5" stroke="#b4b4b4" stroke-width="1.0"/>
<line x1="36.4" y1="209.4" x2="181" y2="209.4" stroke="#b4b4b4" stroke-width="1.0"/>
<line x1="32.6" y1="209.2" x2="36.4" y2="209.2" stroke="#858585" stroke-width="0.7"/>
<line x1="34.6" y1="204.54999999999998" x2="36.4" y2="204.54999999999998" stroke="#858585" stroke-width="0.7"/>
<line x1="34.6" y1="199.89999999999998" x2="36.4" y2="199.89999999999998" stroke="#858585" stroke-width="0.7"/>
<line x1="34.6" y1="195.25" x2="36.4" y2="195.25" stroke="#858585" stroke-width="0.7"/>
<line x1="32.6" y1="190.6" x2="36.4" y2="190.6" stroke="#858585" stroke-width="0.7"/>
<line x1="34.6" y1="185.95" x2="36.4" y2="185.95" stroke="#858585" stroke-width="0.7"/>
<line x1="34.6" y1="181.29999999999998" x2="36.4" y2="181.29999999999998" stroke="#858585" stroke-width="0.7"/>
<line x1="34.6" y1="176.64999999999998" x2="36.4" y2="176.64999999999998" stroke="#858585" stroke-width="0.7"/>
<line x1="32.6" y1="172.0" x2="36.4" y2="172.0" stroke="#858585" stroke-width="0.7"/>
<line x1="34.6" y1="167.35" x2="36.4" y2="167.35" stroke="#858585" stroke-width="0.7"/>
<line x1="34.6" y1="162.7" x2="36.4" y2="162.7" stroke="#858585" stroke-width="0.7"/>
<line x1="34.6" y1="158.04999999999998" x2="36.4" y2="158.04999999999998" stroke="#858585" stroke-width="0.7"/>
<line x1="32.6" y1="153.39999999999998" x2="36.4" y2="153.39999999999998" stroke="#858585" stroke-width="0.7"/>
<line x1="34.6" y1="148.75" x2="36.4" y2="148.75" stroke="#858585" stroke-width="0.7"/>
<line x1="34.6" y1="144.09999999999997" x2="36.4" y2="144.09999999999997" stroke="#858585" stroke-width="0.7"/>
<line x1="34.6" y1="139.45" x2="36.4" y2="139.45" stroke="#858585" stroke-width="0.7"/>
<line x1="32.6" y1="134.79999999999998" x2="36.4" y2="134.79999999999998" stroke="#858585" stroke-width="0.7"/>
<line x1="34.6" y1="130.14999999999998" x2="36.4" y2="130.14999999999998" stroke="#858585" stroke-width="0.7"/>
<line x1="34.6" y1="125.49999999999999" x2="36.4" y2="125.49999999999999" stroke="#858585" stroke-width="0.7"/>
<line x1="34.6" y1="120.84999999999998" x2="36.4" y2="120.84999999999998" stroke="#858585" stroke-width="0.7"/>
<line x1="32.6" y1="116.19999999999999" x2="36.4" y2="116.19999999999999" stroke="#858585" stroke-width="0.7"/>
<line x1="34.6" y1="111.54999999999998" x2="36.4" y2="111.54999999999998" stroke="#858585" stroke-width="0.7"/>
<line x1="34.6" y1="106.89999999999998" x2="36.4" y2="106.89999999999998" stroke="#858585" stroke-width="0.7"/>
<line x1="34.6" y1="102.24999999999997" x2="36.4" y2="102.24999999999997" stroke="#858585" stroke-width="0.7"/>
<line x1="32.6" y1="97.59999999999997" x2="36.4" y2="97.59999999999997" stroke="#858585" stroke-width="0.7"/>
<text x="30.3" y="211.79999999999998" font-size="8.3" text-anchor="end" fill="#111">0</text>
<text x="30.3" y="193.2" font-size="8.3" text-anchor="end" fill="#111">0.2</text>
<text x="30.3" y="174.6" font-size="8.3" text-anchor="end" fill="#111">0.4</text>
<text x="30.3" y="155.99999999999997" font-size="8.3" text-anchor="end" fill="#111">0.6</text>
<text x="30.3" y="137.39999999999998" font-size="8.3" text-anchor="end" fill="#111">0.8</text>
<text x="30.3" y="118.79999999999998" font-size="8.3" text-anchor="end" fill="#111">1.0</text>
<text x="30.3" y="100.19999999999999" font-size="8.3" text-anchor="end" fill="#111">1.2</text>
<rect x="48" y="125.49999999999999" width="25" height="84.00000000000001" fill="#000" stroke="none" stroke-width="0.8"/>
<rect x="95.6" y="120.85" width="24.3" height="88.65" fill="#fff" stroke="#777" stroke-width="0.9"/>
<rect x="143.7" y="111.54999999999998" width="24" height="97.95000000000002" fill="#fff" stroke="#777" stroke-width="0.9"/>
<line x1="107.7" y1="117.3" x2="107.7" y2="123.4" stroke="#555" stroke-width="0.8"/>
<line x1="105.5" y1="117.3" x2="109.9" y2="117.3" stroke="#555" stroke-width="0.8"/>
<line x1="105.5" y1="123.4" x2="109.9" y2="123.4" stroke="#555" stroke-width="0.8"/>
<line x1="155.7" y1="100.9" x2="155.7" y2="121" stroke="#555" stroke-width="0.8"/>
<line x1="153.5" y1="100.9" x2="157.89999999999998" y2="100.9" stroke="#555" stroke-width="0.8"/>
<line x1="153.5" y1="121" x2="157.89999999999998" y2="121" stroke="#555" stroke-width="0.8"/>
<text x="51.6" y="219.2" font-size="8.8" textLength="17.4" lengthAdjust="spacingAndGlyphs" fill="#111">input</text>
<text x="99.0" y="219.3" font-size="8.8" textLength="16.9" lengthAdjust="spacingAndGlyphs" fill="#111">MLN</text>
<text x="145.1" y="219.3" font-size="8.8" textLength="21.1" lengthAdjust="spacingAndGlyphs" fill="#111">Blood</text>
<line x1="36.3" y1="245.8" x2="36.3" y2="340.3" stroke="#b4b4b4" stroke-width="1.0"/>
<line x1="31.5" y1="337.6" x2="250.4" y2="337.6" stroke="#b4b4b4" stroke-width="1.0"/>
<line x1="31.6" y1="337.6" x2="36.3" y2="337.6" stroke="#858585" stroke-width="0.7"/>
<line x1="34.2" y1="333.225" x2="36.3" y2="333.225" stroke="#858585" stroke-width="0.7"/>
<line x1="34.2" y1="328.85" x2="36.3" y2="328.85" stroke="#858585" stroke-width="0.7"/>
<line x1="34.2" y1="324.475" x2="36.3" y2="324.475" stroke="#858585" stroke-width="0.7"/>
<line x1="31.6" y1="320.1" x2="36.3" y2="320.1" stroke="#858585" stroke-width="0.7"/>
<line x1="34.2" y1="315.725" x2="36.3" y2="315.725" stroke="#858585" stroke-width="0.7"/>
<line x1="34.2" y1="311.35" x2="36.3" y2="311.35" stroke="#858585" stroke-width="0.7"/>
<line x1="34.2" y1="306.975" x2="36.3" y2="306.975" stroke="#858585" stroke-width="0.7"/>
<line x1="31.6" y1="302.6" x2="36.3" y2="302.6" stroke="#858585" stroke-width="0.7"/>
<line x1="34.2" y1="298.225" x2="36.3" y2="298.225" stroke="#858585" stroke-width="0.7"/>
<line x1="34.2" y1="293.85" x2="36.3" y2="293.85" stroke="#858585" stroke-width="0.7"/>
<line x1="34.2" y1="289.475" x2="36.3" y2="289.475" stroke="#858585" stroke-width="0.7"/>
<line x1="31.6" y1="285.1" x2="36.3" y2="285.1" stroke="#858585" stroke-width="0.7"/>
<line x1="34.2" y1="280.725" x2="36.3" y2="280.725" stroke="#858585" stroke-width="0.7"/>
<line x1="34.2" y1="276.35" x2="36.3" y2="276.35" stroke="#858585" stroke-width="0.7"/>
<line x1="34.2" y1="271.975" x2="36.3" y2="271.975" stroke="#858585" stroke-width="0.7"/>
<line x1="31.6" y1="267.6" x2="36.3" y2="267.6" stroke="#858585" stroke-width="0.7"/>
<line x1="34.2" y1="263.225" x2="36.3" y2="263.225" stroke="#858585" stroke-width="0.7"/>
<line x1="34.2" y1="258.85" x2="36.3" y2="258.85" stroke="#858585" stroke-width="0.7"/>
<line x1="34.2" y1="254.47500000000002" x2="36.3" y2="254.47500000000002" stroke="#858585" stroke-width="0.7"/>
<line x1="31.6" y1="250.10000000000002" x2="36.3" y2="250.10000000000002" stroke="#858585" stroke-width="0.7"/>
<text x="27.1" y="341.1" font-size="8.6" text-anchor="end" fill="#111">0</text>
<text x="27.1" y="323.6" font-size="8.6" text-anchor="end" fill="#111">0.2</text>
<text x="27.1" y="306.1" font-size="8.6" text-anchor="end" fill="#111">0.4</text>
<text x="27.1" y="288.6" font-size="8.6" text-anchor="end" fill="#111">0.6</text>
<text x="27.1" y="271.1" font-size="8.6" text-anchor="end" fill="#111">0.8</text>
<text x="27.1" y="253.60000000000002" font-size="8.6" text-anchor="end" fill="#111">1.0</text>
<line x1="78.7" y1="337.6" x2="78.7" y2="340.2" stroke="#858585" stroke-width="0.7"/>
<line x1="164" y1="337.6" x2="164" y2="340.2" stroke="#858585" stroke-width="0.7"/>
<line x1="250.4" y1="337.6" x2="250.4" y2="340.2" stroke="#858585" stroke-width="0.7"/>
<rect x="46.2" y="250.10000000000002" width="22.7" height="87.5" fill="#000" stroke="none" stroke-width="0.8"/>
<rect x="89.4" y="279.6" width="22.5" height="58.0" fill="#fff" stroke="#777" stroke-width="0.9"/>
<rect x="132.4" y="279.6" width="22.2" height="58.0" fill="#b0b0b0" stroke="#777" stroke-width="0.9"/>
<rect x="175.2" y="271.1" width="22.5" height="66.5" fill="#fff" stroke="#777" stroke-width="0.9"/>
<rect x="217.4" y="274.2" width="22.4" height="63.400000000000034" fill="#b0b0b0" stroke="#777" stroke-width="0.9"/>
<line x1="100.6" y1="276.5" x2="100.6" y2="283.4" stroke="#555" stroke-width="0.8"/>
<line x1="98.39999999999999" y1="276.5" x2="102.8" y2="276.5" stroke="#555" stroke-width="0.8"/>
<line x1="98.39999999999999" y1="283.4" x2="102.8" y2="283.4" stroke="#555" stroke-width="0.8"/>
<line x1="143.5" y1="277.4" x2="143.5" y2="281.0" stroke="#555" stroke-width="0.8"/>
<line x1="141.3" y1="277.4" x2="145.7" y2="277.4" stroke="#555" stroke-width="0.8"/>
<line x1="141.3" y1="281.0" x2="145.7" y2="281.0" stroke="#555" stroke-width="0.8"/>
<line x1="186.5" y1="269.3" x2="186.5" y2="272.7" stroke="#555" stroke-width="0.8"/>
<line x1="184.3" y1="269.3" x2="188.7" y2="269.3" stroke="#555" stroke-width="0.8"/>
<line x1="184.3" y1="272.7" x2="188.7" y2="272.7" stroke="#555" stroke-width="0.8"/>
<line x1="228.6" y1="263.2" x2="228.6" y2="285.2" stroke="#555" stroke-width="0.8"/>
<line x1="226.4" y1="263.2" x2="230.79999999999998" y2="263.2" stroke="#555" stroke-width="0.8"/>
<line x1="226.4" y1="285.2" x2="230.79999999999998" y2="285.2" stroke="#555" stroke-width="0.8"/>
<text x="35" y="240.6" font-size="8.3" textLength="23" lengthAdjust="spacingAndGlyphs" fill="#111">DAY 3</text>
<text x="48.2" y="348.0" font-size="8.8" textLength="17.6" lengthAdjust="spacingAndGlyphs" fill="#111">input</text>
<text x="88.5" y="348.3" font-size="8.8" textLength="23.4" lengthAdjust="spacingAndGlyphs" fill="#111">unstim</text>
<text x="124.0" y="348.3" font-size="8.6" textLength="37.9" lengthAdjust="spacingAndGlyphs" fill="#111">OVA+LPS</text>
<text x="174.6" y="348.3" font-size="8.8" textLength="23.8" lengthAdjust="spacingAndGlyphs" fill="#111">unstim</text>
<text x="210.6" y="348.3" font-size="8.6" textLength="36.9" lengthAdjust="spacingAndGlyphs" fill="#111">OVA+LPS</text>
<line x1="78.7" y1="352.5" x2="78.7" y2="356.2" stroke="#666" stroke-width="0.8"/>
<line x1="163.3" y1="352.5" x2="163.3" y2="356.2" stroke="#666" stroke-width="0.8"/>
<line x1="78.7" y1="356.2" x2="108.5" y2="356.2" stroke="#666" stroke-width="0.8"/>
<line x1="131" y1="356.2" x2="163.3" y2="356.2" stroke="#666" stroke-width="0.8"/>
<line x1="165.4" y1="352.5" x2="165.4" y2="356.2" stroke="#666" stroke-width="0.8"/>
<line x1="250" y1="352.5" x2="250" y2="356.2" stroke="#666" stroke-width="0.8"/>
<line x1="165.4" y1="356.2" x2="194.6" y2="356.2" stroke="#666" stroke-width="0.8"/>
<line x1="220.6" y1="356.2" x2="250" y2="356.2" stroke="#666" stroke-width="0.8"/>
<text x="110.5" y="359.3" font-size="8.4" textLength="17.1" lengthAdjust="spacingAndGlyphs" fill="#111">MLN</text>
<text x="195.7" y="359.3" font-size="8.4" textLength="21.5" lengthAdjust="spacingAndGlyphs" fill="#111">Blood</text>
<text x="0" y="0" font-size="8.4" textLength="68.2" lengthAdjust="spacingAndGlyphs" fill="#111" transform="translate(9.6,330.2) rotate(-90)">CCR9<tspan font-size="6" dy="-3">-/-</tspan><tspan dy="3"> : WT ratio</tspan></text>
<line x1="297.6" y1="12.5" x2="297.6" y2="96.3" stroke="#c0c0c0" stroke-width="1.1"/>
<line x1="297.6" y1="96.3" x2="380.4" y2="96.3" stroke="#a5a5a5" stroke-width="1.0"/>
<text x="291.8" y="98.9" font-size="8.6" text-anchor="end" fill="#111">0</text>
<text x="291.8" y="71.25" font-size="8.6" text-anchor="end" fill="#111">5</text>
<text x="291.8" y="43.6" font-size="8.6" text-anchor="end" fill="#111">10</text>
<text x="291.8" y="15.950000000000003" font-size="8.6" text-anchor="end" fill="#111">15</text>
<polyline points="302.3,28.2 310.6,52.1 318.9,56.9 327.2,63.6 335.5,70.6 343.8,83.3 352.1,89.5 360.4,92.6 368.7,94.2 377.0,95.1" fill="none" stroke="#333" stroke-width="0.7"/>
<polyline points="302.3,18.2 310.6,33.4 318.9,49.8 327.2,60.2 335.5,74.0 343.8,83.0 352.1,89.1 360.4,92.3 368.7,93.9 377.0,94.9" fill="none" stroke="#777" stroke-width="0.7"/>
<rect x="300.1" y="26.0" width="4.4" height="4.4" fill="#000"/>
<rect x="308.4" y="49.9" width="4.4" height="4.4" fill="#000"/>
<rect x="316.7" y="54.7" width="4.4" height="4.4" fill="#000"/>
<rect x="325.0" y="61.4" width="4.4" height="4.4" fill="#000"/>
<rect x="333.3" y="68.4" width="4.4" height="4.4" fill="#000"/>
<rect x="341.6" y="81.1" width="4.4" height="4.4" fill="#000"/>
<rect x="349.9" y="87.3" width="4.4" height="4.4" fill="#000"/>
<rect x="358.2" y="90.4" width="4.4" height="4.4" fill="#000"/>
<rect x="366.5" y="92.0" width="4.4" height="4.4" fill="#000"/>
<rect x="374.8" y="92.9" width="4.4" height="4.4" fill="#000"/>
<rect x="300.1" y="16.0" width="4.4" height="4.4" fill="#c6c6c6" stroke="#7a7a7a" stroke-width="0.6"/>
<rect x="308.4" y="31.2" width="4.4" height="4.4" fill="#c6c6c6" stroke="#7a7a7a" stroke-width="0.6"/>
<rect x="316.7" y="47.6" width="4.4" height="4.4" fill="#c6c6c6" stroke="#7a7a7a" stroke-width="0.6"/>
<rect x="325.0" y="58.0" width="4.4" height="4.4" fill="#c6c6c6" stroke="#7a7a7a" stroke-width="0.6"/>
<rect x="341.6" y="80.8" width="4.4" height="4.4" fill="#c6c6c6" stroke="#7a7a7a" stroke-width="0.6"/>
<rect x="349.9" y="86.9" width="4.4" height="4.4" fill="#c6c6c6" stroke="#7a7a7a" stroke-width="0.6"/>
<rect x="358.2" y="90.1" width="4.4" height="4.4" fill="#c6c6c6" stroke="#7a7a7a" stroke-width="0.6"/>
<rect x="366.5" y="91.7" width="4.4" height="4.4" fill="#c6c6c6" stroke="#7a7a7a" stroke-width="0.6"/>
<rect x="374.8" y="92.7" width="4.4" height="4.4" fill="#c6c6c6" stroke="#7a7a7a" stroke-width="0.6"/>
<rect x="333.3" y="71.8" width="4.4" height="4.4" fill="#c6c6c6" stroke="#7a7a7a" stroke-width="0.6"/>
<rect x="333.3" y="68.4" width="4.4" height="4.4" fill="#000"/>
<line x1="310.6" y1="27.6" x2="310.6" y2="31" stroke="#777" stroke-width="0.6"/>
<line x1="318.9" y1="59.2" x2="318.9" y2="61.5" stroke="#777" stroke-width="0.6"/>
<line x1="327.2" y1="56" x2="327.2" y2="58" stroke="#777" stroke-width="0.6"/>
<line x1="335.5" y1="76" x2="335.5" y2="78.5" stroke="#777" stroke-width="0.6"/>
<rect x="341" y="12.1" width="76.8" height="30.3" fill="#fff" stroke="#888" stroke-width="0.8"/>
<rect x="346.7" y="14.7" width="10" height="9.5" fill="#000" stroke="none" stroke-width="0.8"/>
<rect x="346.7" y="29.2" width="10" height="9.6" fill="#999" stroke="#888" stroke-width="0.5"/>
<text x="362.3" y="22.9" font-size="8.2" textLength="33.3" lengthAdjust="spacingAndGlyphs" fill="#111">WT OT-II</text>
<text x="362.8" y="38.3" font-size="8.3" textLength="22.6" lengthAdjust="spacingAndGlyphs" fill="#111">CCR9</text>
<text x="385.9" y="34.7" font-size="6.2" textLength="6.2" lengthAdjust="spacingAndGlyphs" fill="#111">-/-</text>
<text x="395.7" y="38.3" font-size="8.3" textLength="18.5" lengthAdjust="spacingAndGlyphs" fill="#111">OT-II</text>
<text x="298.9" y="107.8" font-size="8.7" textLength="8.2" lengthAdjust="spacingAndGlyphs" fill="#111">50</text>
<text x="314.8" y="107.8" font-size="8.7" textLength="8.0" lengthAdjust="spacingAndGlyphs" fill="#111">12</text>
<text x="329.59999999999997" y="107.8" font-size="8.7" textLength="10.6" lengthAdjust="spacingAndGlyphs" fill="#111">3.1</text>
<text x="346.4" y="107.8" font-size="8.7" textLength="11.1" lengthAdjust="spacingAndGlyphs" fill="#111">0.8</text>
<text x="362.3" y="107.8" font-size="8.7" textLength="10.6" lengthAdjust="spacingAndGlyphs" fill="#111">0.2</text>
<text x="298.7" y="121.8" font-size="8.4" textLength="75.3" lengthAdjust="spacingAndGlyphs" fill="#111">no. MLN DCs x 10<tspan font-size="7" dy="-3.6">-3</tspan></text>
<text x="0" y="0" font-size="8.8" textLength="78.6" lengthAdjust="spacingAndGlyphs" fill="#111" transform="translate(266.4,92.6) rotate(-90)">3H-Thymidine uptake</text>
<text x="0" y="0" font-size="8.6" textLength="38.2" lengthAdjust="spacingAndGlyphs" fill="#111" transform="translate(276.0,73.6) rotate(-90)">(cpm) x 10</text>
<text x="0" y="0" font-size="8" textLength="7.0" lengthAdjust="spacingAndGlyphs" fill="#111" transform="translate(273.6,34.4) rotate(-90)">-3</text>
<line x1="298" y1="131.9" x2="298" y2="337" stroke="#b4b4b4" stroke-width="1.0"/>
<line x1="292.7" y1="337" x2="516" y2="337" stroke="#b4b4b4" stroke-width="1.0"/>
<line x1="293.0" y1="131.9" x2="298" y2="131.9" stroke="#858585" stroke-width="0.8"/>
<line x1="298.1" y1="337" x2="298.1" y2="342" stroke="#858585" stroke-width="0.75"/>
<line x1="303.90000000000003" y1="337" x2="303.90000000000003" y2="339.8" stroke="#858585" stroke-width="0.75"/>
<line x1="309.70000000000005" y1="337" x2="309.70000000000005" y2="339.8" stroke="#858585" stroke-width="0.75"/>
<line x1="315.5" y1="337" x2="315.5" y2="339.8" stroke="#858585" stroke-width="0.75"/>
<line x1="321.3" y1="337" x2="321.3" y2="339.8" stroke="#858585" stroke-width="0.75"/>
<line x1="327.1" y1="337" x2="327.1" y2="339.8" stroke="#858585" stroke-width="0.75"/>
<line x1="332.90000000000003" y1="337" x2="332.90000000000003" y2="339.8" stroke="#858585" stroke-width="0.75"/>
<line x1="338.70000000000005" y1="337" x2="338.70000000000005" y2="339.8" stroke="#858585" stroke-width="0.75"/>
<line x1="344.5" y1="337" x2="344.5" y2="339.8" stroke="#858585" stroke-width="0.75"/>
<line x1="350.3" y1="337" x2="350.3" y2="339.8" stroke="#858585" stroke-width="0.75"/>
<line x1="356.1" y1="337" x2="356.1" y2="342" stroke="#858585" stroke-width="0.75"/>
<line x1="361.90000000000003" y1="337" x2="361.90000000000003" y2="339.8" stroke="#858585" stroke-width="0.75"/>
<line x1="367.70000000000005" y1="337" x2="367.70000000000005" y2="339.8" stroke="#858585" stroke-width="0.75"/>
<line x1="373.5" y1="337" x2="373.5" y2="339.8" stroke="#858585" stroke-width="0.75"/>
<line x1="379.3" y1="337" x2="379.3" y2="339.8" stroke="#858585" stroke-width="0.75"/>
<line x1="385.1" y1="337" x2="385.1" y2="339.8" stroke="#858585" stroke-width="0.75"/>
<line x1="390.90000000000003" y1="337" x2="390.90000000000003" y2="339.8" stroke="#858585" stroke-width="0.75"/>
<line x1="396.70000000000005" y1="337" x2="396.70000000000005" y2="339.8" stroke="#858585" stroke-width="0.75"/>
<line x1="402.5" y1="337" x2="402.5" y2="339.8" stroke="#858585" stroke-width="0.75"/>
<line x1="408.3" y1="337" x2="408.3" y2="339.8" stroke="#858585" stroke-width="0.75"/>
<line x1="414.1" y1="337" x2="414.1" y2="342" stroke="#858585" stroke-width="0.75"/>
<line x1="419.90000000000003" y1="337" x2="419.90000000000003" y2="339.8" stroke="#858585" stroke-width="0.75"/>
<line x1="425.70000000000005" y1="337" x2="425.70000000000005" y2="339.8" stroke="#858585" stroke-width="0.75"/>
<line x1="431.5" y1="337" x2="431.5" y2="339.8" stroke="#858585" stroke-width="0.75"/>
<line x1="437.3" y1="337" x2="437.3" y2="339.8" stroke="#858585" stroke-width="0.75"/>
<line x1="443.1" y1="337" x2="443.1" y2="339.8" stroke="#858585" stroke-width="0.75"/>
<line x1="448.9" y1="337" x2="448.9" y2="339.8" stroke="#858585" stroke-width="0.75"/>
<line x1="454.70000000000005" y1="337" x2="454.70000000000005" y2="339.8" stroke="#858585" stroke-width="0.75"/>
<line x1="460.5" y1="337" x2="460.5" y2="339.8" stroke="#858585" stroke-width="0.75"/>
<line x1="466.3" y1="337" x2="466.3" y2="339.8" stroke="#858585" stroke-width="0.75"/>
<line x1="472.1" y1="337" x2="472.1" y2="342" stroke="#858585" stroke-width="0.75"/>
<line x1="477.9" y1="337" x2="477.9" y2="339.8" stroke="#858585" stroke-width="0.75"/>
<line x1="483.70000000000005" y1="337" x2="483.70000000000005" y2="339.8" stroke="#858585" stroke-width="0.75"/>
<line x1="489.5" y1="337" x2="489.5" y2="339.8" stroke="#858585" stroke-width="0.75"/>
<line x1="495.3" y1="337" x2="495.3" y2="339.8" stroke="#858585" stroke-width="0.75"/>
<line x1="501.1" y1="337" x2="501.1" y2="339.8" stroke="#858585" stroke-width="0.75"/>
<line x1="506.9" y1="337" x2="506.9" y2="339.8" stroke="#858585" stroke-width="0.75"/>
<line x1="512.7" y1="337" x2="512.7" y2="339.8" stroke="#858585" stroke-width="0.75"/>
<line x1="292.5" y1="163.75" x2="298" y2="163.75" stroke="#858585" stroke-width="0.8"/>
<line x1="292.5" y1="192.5" x2="298" y2="192.5" stroke="#858585" stroke-width="0.8"/>
<line x1="292.5" y1="221.25" x2="298" y2="221.25" stroke="#858585" stroke-width="0.8"/>
<line x1="292.5" y1="250.0" x2="298" y2="250.0" stroke="#858585" stroke-width="0.8"/>
<line x1="292.5" y1="278.75" x2="298" y2="278.75" stroke="#858585" stroke-width="0.8"/>
<line x1="292.5" y1="307.5" x2="298" y2="307.5" stroke="#858585" stroke-width="0.8"/>
<line x1="292.5" y1="336.25" x2="298" y2="336.25" stroke="#858585" stroke-width="0.8"/>
<text x="298.40000000000003" y="350.3" font-size="8.6" text-anchor="middle" textLength="4.8" lengthAdjust="spacingAndGlyphs" fill="#111">0</text>
<text x="356.40000000000003" y="350.3" font-size="8.6" text-anchor="middle" textLength="9.0" lengthAdjust="spacingAndGlyphs" fill="#111">20</text>
<text x="414.40000000000003" y="350.3" font-size="8.6" text-anchor="middle" textLength="9.0" lengthAdjust="spacingAndGlyphs" fill="#111">40</text>
<text x="472.40000000000003" y="350.3" font-size="8.6" text-anchor="middle" textLength="9.0" lengthAdjust="spacingAndGlyphs" fill="#111">60</text>
<text x="368.1" y="360.3" font-size="8" textLength="77.5" lengthAdjust="spacingAndGlyphs" fill="#111">% positive OT-II cells</text>
<rect x="298.5" y="149.9" width="43.10000000000002" height="11.1" fill="#b0b0b0" stroke="none" stroke-width="0.8"/>
<path d="M298.5,138.15 H345.66 V149.90 H298.5 M298.5,149.90 H341.60 V161.00 H298.5" fill="none" stroke="#959595" stroke-width="0.8"/>
<line x1="323.5" y1="143.95000000000002" x2="367.3" y2="143.95000000000002" stroke="#8a8a8a" stroke-width="0.7"/>
<line x1="323.5" y1="140.75000000000003" x2="323.5" y2="147.15" stroke="#8a8a8a" stroke-width="0.7"/>
<line x1="367.3" y1="140.75000000000003" x2="367.3" y2="147.15" stroke="#8a8a8a" stroke-width="0.7"/>
<line x1="324.8" y1="155.25" x2="355.9" y2="155.25" stroke="#8a8a8a" stroke-width="0.7"/>
<line x1="324.8" y1="152.05" x2="324.8" y2="158.45" stroke="#8a8a8a" stroke-width="0.7"/>
<line x1="355.9" y1="152.05" x2="355.9" y2="158.45" stroke="#8a8a8a" stroke-width="0.7"/>
<text x="259.3" y="155.2" font-size="8.6" textLength="23.1" lengthAdjust="spacingAndGlyphs" fill="#111">CCR2</text>
<rect x="298.5" y="178.87" width="141.12" height="11.1" fill="#b0b0b0" stroke="none" stroke-width="0.8"/>
<path d="M298.5,167.12 H333.19 V178.87 H298.5 M298.5,178.87 H439.62 V189.97 H298.5" fill="none" stroke="#959595" stroke-width="0.8"/>
<line x1="330.5" y1="172.92000000000002" x2="334.4" y2="172.92000000000002" stroke="#8a8a8a" stroke-width="0.7"/>
<line x1="330.5" y1="169.72000000000003" x2="330.5" y2="176.12" stroke="#8a8a8a" stroke-width="0.7"/>
<line x1="334.4" y1="169.72000000000003" x2="334.4" y2="176.12" stroke="#8a8a8a" stroke-width="0.7"/>
<line x1="419.4" y1="184.22" x2="457.7" y2="184.22" stroke="#8a8a8a" stroke-width="0.7"/>
<line x1="419.4" y1="181.02" x2="419.4" y2="187.42" stroke="#8a8a8a" stroke-width="0.7"/>
<line x1="457.7" y1="181.02" x2="457.7" y2="187.42" stroke="#8a8a8a" stroke-width="0.7"/>
<text x="259.3" y="183.3" font-size="8.6" textLength="23.1" lengthAdjust="spacingAndGlyphs" fill="#111">CCR5</text>
<rect x="298.5" y="207.84" width="118.21000000000004" height="11.1" fill="#b0b0b0" stroke="none" stroke-width="0.8"/>
<path d="M298.5,196.09 H410.62 V207.84 H298.5 M298.5,207.84 H416.71 V218.94 H298.5" fill="none" stroke="#959595" stroke-width="0.8"/>
<line x1="377.5" y1="201.89000000000001" x2="441.5" y2="201.89000000000001" stroke="#8a8a8a" stroke-width="0.7"/>
<line x1="377.5" y1="198.69000000000003" x2="377.5" y2="205.09" stroke="#8a8a8a" stroke-width="0.7"/>
<line x1="441.5" y1="198.69000000000003" x2="441.5" y2="205.09" stroke="#8a8a8a" stroke-width="0.7"/>
<line x1="374.4" y1="213.19" x2="456.9" y2="213.19" stroke="#8a8a8a" stroke-width="0.7"/>
<line x1="374.4" y1="209.99" x2="374.4" y2="216.39" stroke="#8a8a8a" stroke-width="0.7"/>
<line x1="456.9" y1="209.99" x2="456.9" y2="216.39" stroke="#8a8a8a" stroke-width="0.7"/>
<text x="259.3" y="211.4" font-size="8.6" textLength="23.1" lengthAdjust="spacingAndGlyphs" fill="#111">CCR6</text>
<rect x="298.5" y="236.81" width="18.450000000000045" height="11.1" fill="#b0b0b0" stroke="none" stroke-width="0.8"/>
<path d="M298.5,225.06 H326.81 V236.81 H298.5 M298.5,236.81 H316.95 V247.91 H298.5" fill="none" stroke="#959595" stroke-width="0.8"/>
<line x1="307.5" y1="230.86" x2="344.4" y2="230.86" stroke="#8a8a8a" stroke-width="0.7"/>
<line x1="307.5" y1="227.66000000000003" x2="307.5" y2="234.06" stroke="#8a8a8a" stroke-width="0.7"/>
<line x1="344.4" y1="227.66000000000003" x2="344.4" y2="234.06" stroke="#8a8a8a" stroke-width="0.7"/>
<line x1="305.6" y1="242.16" x2="325.9" y2="242.16" stroke="#8a8a8a" stroke-width="0.7"/>
<line x1="305.6" y1="238.96" x2="305.6" y2="245.35999999999999" stroke="#8a8a8a" stroke-width="0.7"/>
<line x1="325.9" y1="238.96" x2="325.9" y2="245.35999999999999" stroke="#8a8a8a" stroke-width="0.7"/>
<text x="259.3" y="239.5" font-size="8.6" textLength="23.1" lengthAdjust="spacingAndGlyphs" fill="#111">CCR8</text>
<rect x="298.5" y="265.78" width="106.03000000000003" height="11.1" fill="#b0b0b0" stroke="none" stroke-width="0.8"/>
<path d="M298.5,254.03 H417.58 V265.78 H298.5 M298.5,265.78 H404.53 V276.88 H298.5" fill="none" stroke="#959595" stroke-width="0.8"/>
<line x1="404.4" y1="259.83" x2="428.3" y2="259.83" stroke="#8a8a8a" stroke-width="0.7"/>
<line x1="404.4" y1="256.63" x2="404.4" y2="263.03" stroke="#8a8a8a" stroke-width="0.7"/>
<line x1="428.3" y1="256.63" x2="428.3" y2="263.03" stroke="#8a8a8a" stroke-width="0.7"/>
<line x1="383.3" y1="271.13" x2="423.3" y2="271.13" stroke="#8a8a8a" stroke-width="0.7"/>
<line x1="383.3" y1="267.93" x2="383.3" y2="274.33" stroke="#8a8a8a" stroke-width="0.7"/>
<line x1="423.3" y1="267.93" x2="423.3" y2="274.33" stroke="#8a8a8a" stroke-width="0.7"/>
<text x="259.3" y="267.6" font-size="8.6" textLength="27.9" lengthAdjust="spacingAndGlyphs" fill="#111">CXCR3</text>
<rect x="298.5" y="294.75" width="14.390000000000043" height="11.1" fill="#b0b0b0" stroke="none" stroke-width="0.8"/>
<path d="M298.5,283.00 H326.81 V294.75 H298.5 M298.5,294.75 H312.89 V305.85 H298.5" fill="none" stroke="#959595" stroke-width="0.8"/>
<line x1="306.8" y1="288.8" x2="345.2" y2="288.8" stroke="#8a8a8a" stroke-width="0.7"/>
<line x1="306.8" y1="285.6" x2="306.8" y2="292.0" stroke="#8a8a8a" stroke-width="0.7"/>
<line x1="345.2" y1="285.6" x2="345.2" y2="292.0" stroke="#8a8a8a" stroke-width="0.7"/>
<line x1="306.5" y1="300.1" x2="319.2" y2="300.1" stroke="#8a8a8a" stroke-width="0.7"/>
<line x1="306.5" y1="296.90000000000003" x2="306.5" y2="303.3" stroke="#8a8a8a" stroke-width="0.7"/>
<line x1="319.2" y1="296.90000000000003" x2="319.2" y2="303.3" stroke="#8a8a8a" stroke-width="0.7"/>
<text x="259.3" y="295.7" font-size="8.6" textLength="27.9" lengthAdjust="spacingAndGlyphs" fill="#111">CXCR6</text>
<rect x="298.5" y="323.72" width="99.94000000000005" height="11.1" fill="#b0b0b0" stroke="none" stroke-width="0.8"/>
<path d="M298.5,311.97 H430.92 V323.72 H298.5 M298.5,323.72 H398.44 V334.82 H298.5" fill="none" stroke="#959595" stroke-width="0.8"/>
<line x1="366.9" y1="317.77000000000004" x2="493.7" y2="317.77000000000004" stroke="#8a8a8a" stroke-width="0.7"/>
<line x1="366.9" y1="314.57000000000005" x2="366.9" y2="320.97" stroke="#8a8a8a" stroke-width="0.7"/>
<line x1="493.7" y1="314.57000000000005" x2="493.7" y2="320.97" stroke="#8a8a8a" stroke-width="0.7"/>
<line x1="356.6" y1="329.07000000000005" x2="437.4" y2="329.07000000000005" stroke="#8a8a8a" stroke-width="0.7"/>
<line x1="356.6" y1="325.87000000000006" x2="356.6" y2="332.27000000000004" stroke="#8a8a8a" stroke-width="0.7"/>
<line x1="437.4" y1="325.87000000000006" x2="437.4" y2="332.27000000000004" stroke="#8a8a8a" stroke-width="0.7"/>
<text x="260.9" y="322.8" font-size="8.8" textLength="5" lengthAdjust="spacingAndGlyphs" font-family="Liberation Serif, serif" fill="#111">&#945;</text>
<text x="266.0" y="323.8" font-size="5.4" textLength="3.6" lengthAdjust="spacingAndGlyphs" font-family="Liberation Serif, serif" fill="#111">4</text>
<text x="270.6" y="322.8" font-size="8.6" textLength="3.9" lengthAdjust="spacingAndGlyphs" font-family="Liberation Serif, serif" fill="#111">&#946;</text>
<text x="274.7" y="324.5" font-size="8.3" textLength="5" lengthAdjust="spacingAndGlyphs" font-family="Liberation Serif, serif" fill="#111">7</text>
<rect x="443.5" y="135.6" width="75.6" height="29.4" fill="#fff" stroke="#888" stroke-width="0.8"/>
<line x1="519.1" y1="135.6" x2="519.1" y2="165" stroke="#666" stroke-width="0.9"/>
<rect x="448.4" y="138.9" width="9.8" height="9" fill="#fff" stroke="#888" stroke-width="0.6"/>
<rect x="448.4" y="152" width="9.8" height="9.3" fill="#999" stroke="#888" stroke-width="0.5"/>
<text x="460.8" y="146" font-size="8.2" textLength="32.7" lengthAdjust="spacingAndGlyphs" fill="#111">WT OT-II</text>
<text x="461.1" y="160.0" font-size="8.3" textLength="23.5" lengthAdjust="spacingAndGlyphs" fill="#111">CCR9</text>
<text x="485.0" y="156.6" font-size="6.2" textLength="6.3" lengthAdjust="spacingAndGlyphs" fill="#111">-/-</text>
<text x="494.5" y="160.0" font-size="8.3" textLength="17.5" lengthAdjust="spacingAndGlyphs" fill="#111">OT-II</text>
</svg>
</body></html>
